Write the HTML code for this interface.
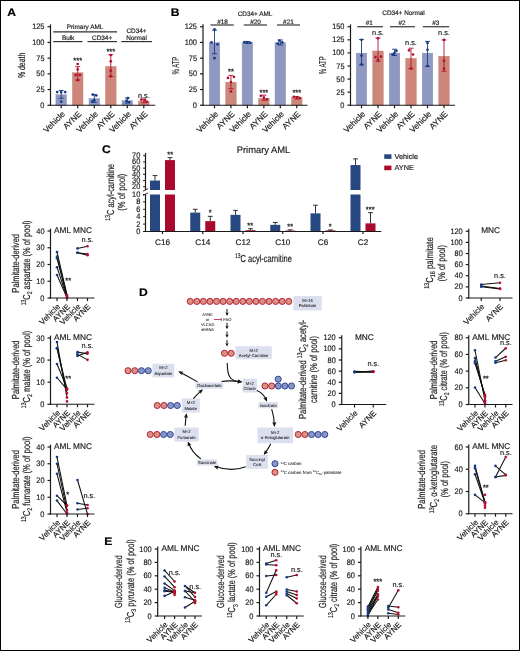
<!DOCTYPE html>
<html><head><meta charset="utf-8"><title>Figure</title>
<style>
html,body{margin:0;padding:0;background:#fff;}
svg{display:block;font-family:"Liberation Sans", sans-serif;text-rendering:geometricPrecision;will-change:transform;}
</style></head><body>
<svg width="520" height="651" viewBox="0 0 520 651">
<rect x="0" y="0" width="520" height="651" fill="#ffffff" />
<text transform="translate(7.3,11.9) scale(1.1,1)" y="3.96" font-size="11" text-anchor="start" font-weight="bold" fill="#000" stroke="#000" stroke-width="0.17">A</text>
<text transform="translate(170.8,12.5) scale(1.1,1)" y="3.96" font-size="11" text-anchor="start" font-weight="bold" fill="#000" stroke="#000" stroke-width="0.17">B</text>
<text transform="translate(102,148.8) scale(1.1,1)" y="3.96" font-size="11" text-anchor="start" font-weight="bold" fill="#000" stroke="#000" stroke-width="0.17">C</text>
<text transform="translate(139,292) scale(1.1,1)" y="3.96" font-size="11" text-anchor="start" font-weight="bold" fill="#000" stroke="#000" stroke-width="0.17">D</text>
<text transform="translate(104.2,540.6) scale(1.1,1)" y="3.96" font-size="11" text-anchor="start" font-weight="bold" fill="#000" stroke="#000" stroke-width="0.17">E</text>
<rect x="55.9" y="94.77" width="10.6" height="10.48" fill="#8f98c1" stroke="#858fbb" stroke-width="0.4"/>
<rect x="72.4" y="72.79" width="10.6" height="32.46" fill="#cd867a" stroke="#c47b70" stroke-width="0.4"/>
<rect x="89" y="98.54" width="10.6" height="6.71" fill="#8f98c1" stroke="#858fbb" stroke-width="0.4"/>
<rect x="105.5" y="66.51" width="10.6" height="38.74" fill="#cd867a" stroke="#c47b70" stroke-width="0.4"/>
<rect x="122" y="100.74" width="10.6" height="4.51" fill="#8f98c1" stroke="#858fbb" stroke-width="0.4"/>
<rect x="138.5" y="101.05" width="10.6" height="4.2" fill="#cd867a" stroke="#c47b70" stroke-width="0.4"/>
<line x1="61.2" y1="98.34" x2="61.2" y2="90.43" stroke="#173b82" stroke-width="0.9" stroke-linecap="butt"/>
<line x1="58.7" y1="90.43" x2="63.7" y2="90.43" stroke="#173b82" stroke-width="0.9" stroke-linecap="butt"/>
<line x1="58.7" y1="98.34" x2="63.7" y2="98.34" stroke="#173b82" stroke-width="0.9" stroke-linecap="butt"/>
<line x1="77.7" y1="80.13" x2="77.7" y2="66.63" stroke="#b30f2f" stroke-width="0.9" stroke-linecap="butt"/>
<line x1="75.2" y1="66.63" x2="80.2" y2="66.63" stroke="#b30f2f" stroke-width="0.9" stroke-linecap="butt"/>
<line x1="75.2" y1="80.13" x2="80.2" y2="80.13" stroke="#b30f2f" stroke-width="0.9" stroke-linecap="butt"/>
<line x1="94.3" y1="102.42" x2="94.3" y2="94.57" stroke="#173b82" stroke-width="0.9" stroke-linecap="butt"/>
<line x1="91.8" y1="94.57" x2="96.8" y2="94.57" stroke="#173b82" stroke-width="0.9" stroke-linecap="butt"/>
<line x1="91.8" y1="102.42" x2="96.8" y2="102.42" stroke="#173b82" stroke-width="0.9" stroke-linecap="butt"/>
<line x1="110.8" y1="76.36" x2="110.8" y2="54.7" stroke="#b30f2f" stroke-width="0.9" stroke-linecap="butt"/>
<line x1="108.3" y1="54.7" x2="113.3" y2="54.7" stroke="#b30f2f" stroke-width="0.9" stroke-linecap="butt"/>
<line x1="108.3" y1="76.36" x2="113.3" y2="76.36" stroke="#b30f2f" stroke-width="0.9" stroke-linecap="butt"/>
<line x1="127.3" y1="103.05" x2="127.3" y2="98.03" stroke="#173b82" stroke-width="0.9" stroke-linecap="butt"/>
<line x1="124.8" y1="98.03" x2="129.8" y2="98.03" stroke="#173b82" stroke-width="0.9" stroke-linecap="butt"/>
<line x1="124.8" y1="103.05" x2="129.8" y2="103.05" stroke="#173b82" stroke-width="0.9" stroke-linecap="butt"/>
<line x1="143.8" y1="102.74" x2="143.8" y2="98.97" stroke="#b30f2f" stroke-width="0.9" stroke-linecap="butt"/>
<line x1="141.3" y1="98.97" x2="146.3" y2="98.97" stroke="#b30f2f" stroke-width="0.9" stroke-linecap="butt"/>
<line x1="141.3" y1="102.74" x2="146.3" y2="102.74" stroke="#b30f2f" stroke-width="0.9" stroke-linecap="butt"/>
<circle cx="57.2" cy="92.06" r="1.35" fill="#173b82"/>
<circle cx="61.2" cy="92.06" r="1.35" fill="#173b82"/>
<circle cx="65.2" cy="92.06" r="1.35" fill="#173b82"/>
<circle cx="61.2" cy="101.61" r="1.35" fill="#173b82"/>
<circle cx="77.7" cy="63.99" r="1.35" fill="#b30f2f"/>
<circle cx="77.7" cy="69.45" r="1.35" fill="#b30f2f"/>
<circle cx="75.7" cy="74.92" r="1.35" fill="#b30f2f"/>
<circle cx="79.9" cy="74.92" r="1.35" fill="#b30f2f"/>
<circle cx="77.7" cy="80.13" r="1.35" fill="#b30f2f"/>
<circle cx="92.8" cy="94.57" r="1.35" fill="#173b82"/>
<circle cx="96.3" cy="95.52" r="1.35" fill="#173b82"/>
<circle cx="94.3" cy="100.23" r="1.35" fill="#173b82"/>
<circle cx="92.3" cy="101.48" r="1.35" fill="#173b82"/>
<circle cx="110.8" cy="55.01" r="1.35" fill="#b30f2f"/>
<circle cx="110.8" cy="61.29" r="1.35" fill="#b30f2f"/>
<circle cx="110.8" cy="70.71" r="1.35" fill="#b30f2f"/>
<circle cx="110.8" cy="76.36" r="1.35" fill="#b30f2f"/>
<circle cx="127.8" cy="98.03" r="1.35" fill="#173b82"/>
<circle cx="126.3" cy="100.85" r="1.35" fill="#173b82"/>
<circle cx="129.3" cy="102.11" r="1.35" fill="#173b82"/>
<circle cx="141.3" cy="99.6" r="1.35" fill="#b30f2f"/>
<circle cx="144.8" cy="100.23" r="1.35" fill="#b30f2f"/>
<circle cx="146.8" cy="101.8" r="1.35" fill="#b30f2f"/>
<line x1="50.5" y1="24.35" x2="50.5" y2="105.85" stroke="#1a1a1a" stroke-width="1.2" stroke-linecap="butt"/>
<line x1="47.5" y1="105.25" x2="50.5" y2="105.25" stroke="#1a1a1a" stroke-width="1.2" stroke-linecap="butt"/>
<text transform="translate(44.5,104.85) scale(0.92,1)" y="2.9" font-size="8.05" text-anchor="end" font-weight="normal" fill="#1a1a1a" stroke="#1a1a1a" stroke-width="0.17">0</text>
<line x1="47.5" y1="89.55" x2="50.5" y2="89.55" stroke="#1a1a1a" stroke-width="1.2" stroke-linecap="butt"/>
<text transform="translate(44.5,89.15) scale(0.92,1)" y="2.9" font-size="8.05" text-anchor="end" font-weight="normal" fill="#1a1a1a" stroke="#1a1a1a" stroke-width="0.17">25</text>
<line x1="47.5" y1="73.85" x2="50.5" y2="73.85" stroke="#1a1a1a" stroke-width="1.2" stroke-linecap="butt"/>
<text transform="translate(44.5,73.45) scale(0.92,1)" y="2.9" font-size="8.05" text-anchor="end" font-weight="normal" fill="#1a1a1a" stroke="#1a1a1a" stroke-width="0.17">50</text>
<line x1="47.5" y1="58.15" x2="50.5" y2="58.15" stroke="#1a1a1a" stroke-width="1.2" stroke-linecap="butt"/>
<text transform="translate(44.5,57.75) scale(0.92,1)" y="2.9" font-size="8.05" text-anchor="end" font-weight="normal" fill="#1a1a1a" stroke="#1a1a1a" stroke-width="0.17">75</text>
<line x1="47.5" y1="42.45" x2="50.5" y2="42.45" stroke="#1a1a1a" stroke-width="1.2" stroke-linecap="butt"/>
<text transform="translate(44.5,42.05) scale(0.92,1)" y="2.9" font-size="8.05" text-anchor="end" font-weight="normal" fill="#1a1a1a" stroke="#1a1a1a" stroke-width="0.17">100</text>
<line x1="47.5" y1="26.75" x2="50.5" y2="26.75" stroke="#1a1a1a" stroke-width="1.2" stroke-linecap="butt"/>
<text transform="translate(44.5,26.35) scale(0.92,1)" y="2.9" font-size="8.05" text-anchor="end" font-weight="normal" fill="#1a1a1a" stroke="#1a1a1a" stroke-width="0.17">125</text>
<line x1="49.9" y1="105.25" x2="155.2" y2="105.25" stroke="#1a1a1a" stroke-width="1.2" stroke-linecap="butt"/>
<line x1="61.2" y1="105.25" x2="61.2" y2="108.25" stroke="#1a1a1a" stroke-width="1.2" stroke-linecap="butt"/>
<line x1="77.7" y1="105.25" x2="77.7" y2="108.25" stroke="#1a1a1a" stroke-width="1.2" stroke-linecap="butt"/>
<line x1="94.3" y1="105.25" x2="94.3" y2="108.25" stroke="#1a1a1a" stroke-width="1.2" stroke-linecap="butt"/>
<line x1="110.8" y1="105.25" x2="110.8" y2="108.25" stroke="#1a1a1a" stroke-width="1.2" stroke-linecap="butt"/>
<line x1="127.3" y1="105.25" x2="127.3" y2="108.25" stroke="#1a1a1a" stroke-width="1.2" stroke-linecap="butt"/>
<line x1="143.8" y1="105.25" x2="143.8" y2="108.25" stroke="#1a1a1a" stroke-width="1.2" stroke-linecap="butt"/>
<text transform="translate(63.3,112.45) rotate(-45)" y="2.95" font-size="8.2" text-anchor="end" font-weight="normal" fill="#1a1a1a" stroke="#1a1a1a" stroke-width="0.17">Vehicle</text>
<text transform="translate(79.8,112.45) rotate(-45)" y="2.95" font-size="8.2" text-anchor="end" font-weight="normal" fill="#1a1a1a" stroke="#1a1a1a" stroke-width="0.17">AYNE</text>
<text transform="translate(96.4,112.45) rotate(-45)" y="2.95" font-size="8.2" text-anchor="end" font-weight="normal" fill="#1a1a1a" stroke="#1a1a1a" stroke-width="0.17">Vehicle</text>
<text transform="translate(112.9,112.45) rotate(-45)" y="2.95" font-size="8.2" text-anchor="end" font-weight="normal" fill="#1a1a1a" stroke="#1a1a1a" stroke-width="0.17">AYNE</text>
<text transform="translate(129.4,112.45) rotate(-45)" y="2.95" font-size="8.2" text-anchor="end" font-weight="normal" fill="#1a1a1a" stroke="#1a1a1a" stroke-width="0.17">Vehicle</text>
<text transform="translate(145.9,112.45) rotate(-45)" y="2.95" font-size="8.2" text-anchor="end" font-weight="normal" fill="#1a1a1a" stroke="#1a1a1a" stroke-width="0.17">AYNE</text>
<text transform="translate(21.7,65.4) rotate(-90) scale(0.69,1)" y="3.6" font-size="10" text-anchor="middle" font-weight="normal" fill="#1a1a1a" stroke="#1a1a1a" stroke-width="0.17"><tspan>% death</tspan></text>
<text x="77.7" y="62.55" font-size="7.5" text-anchor="middle" fill="#1a1a1a" stroke="#1a1a1a" stroke-width="0.25">***</text>
<text x="110.8" y="53.65" font-size="7.5" text-anchor="middle" fill="#1a1a1a" stroke="#1a1a1a" stroke-width="0.25">***</text>
<text x="143.8" y="97.98" font-size="7.35" text-anchor="middle" fill="#1a1a1a" stroke="#1a1a1a" stroke-width="0.15">n.s.</text>
<text transform="translate(85,26.8)" y="2.3" font-size="6.4" text-anchor="middle" font-weight="normal" fill="#1a1a1a" stroke="#1a1a1a" stroke-width="0.17">Primary AML</text>
<line x1="53.25" y1="31.9" x2="117" y2="31.9" stroke="#2e2e2e" stroke-width="1.15" stroke-linecap="butt"/>
<text transform="translate(68.1,37.7)" y="2.3" font-size="6.4" text-anchor="middle" font-weight="normal" fill="#1a1a1a" stroke="#1a1a1a" stroke-width="0.17">Bulk</text>
<line x1="53.25" y1="41.6" x2="82.5" y2="41.6" stroke="#2e2e2e" stroke-width="1.15" stroke-linecap="butt"/>
<text transform="translate(102.1,37.7)" y="2.3" font-size="6.4" text-anchor="middle" font-weight="normal" fill="#1a1a1a" stroke="#1a1a1a" stroke-width="0.17">CD34+</text>
<line x1="87.5" y1="41.6" x2="117" y2="41.6" stroke="#2e2e2e" stroke-width="1.15" stroke-linecap="butt"/>
<text transform="translate(136.5,30.8)" y="2.3" font-size="6.4" text-anchor="middle" font-weight="normal" fill="#1a1a1a" stroke="#1a1a1a" stroke-width="0.17">CD34+</text>
<text transform="translate(136.5,37.7)" y="2.3" font-size="6.4" text-anchor="middle" font-weight="normal" fill="#1a1a1a" stroke="#1a1a1a" stroke-width="0.17">Normal</text>
<line x1="121.2" y1="41.6" x2="152" y2="41.6" stroke="#2e2e2e" stroke-width="1.15" stroke-linecap="butt"/>
<rect x="209.2" y="42.65" width="10.6" height="62.6" fill="#8f98c1" stroke="#858fbb" stroke-width="0.4"/>
<rect x="225.65" y="82.21" width="10.6" height="23.04" fill="#cd867a" stroke="#c47b70" stroke-width="0.4"/>
<rect x="242.1" y="42.65" width="10.6" height="62.6" fill="#8f98c1" stroke="#858fbb" stroke-width="0.4"/>
<rect x="258.55" y="98.42" width="10.6" height="6.83" fill="#cd867a" stroke="#c47b70" stroke-width="0.4"/>
<rect x="275" y="42.65" width="10.6" height="62.6" fill="#8f98c1" stroke="#858fbb" stroke-width="0.4"/>
<rect x="291.45" y="97.54" width="10.6" height="7.71" fill="#cd867a" stroke="#c47b70" stroke-width="0.4"/>
<line x1="214.5" y1="53.75" x2="214.5" y2="30.2" stroke="#173b82" stroke-width="0.9" stroke-linecap="butt"/>
<line x1="212" y1="30.2" x2="217" y2="30.2" stroke="#173b82" stroke-width="0.9" stroke-linecap="butt"/>
<line x1="212" y1="53.75" x2="217" y2="53.75" stroke="#173b82" stroke-width="0.9" stroke-linecap="butt"/>
<line x1="230.95" y1="88.67" x2="230.95" y2="75.42" stroke="#b30f2f" stroke-width="0.9" stroke-linecap="butt"/>
<line x1="228.45" y1="75.42" x2="233.45" y2="75.42" stroke="#b30f2f" stroke-width="0.9" stroke-linecap="butt"/>
<line x1="228.45" y1="88.67" x2="233.45" y2="88.67" stroke="#b30f2f" stroke-width="0.9" stroke-linecap="butt"/>
<line x1="247.4" y1="43.39" x2="247.4" y2="41.51" stroke="#173b82" stroke-width="0.9" stroke-linecap="butt"/>
<line x1="244.9" y1="41.51" x2="249.9" y2="41.51" stroke="#173b82" stroke-width="0.9" stroke-linecap="butt"/>
<line x1="244.9" y1="43.39" x2="249.9" y2="43.39" stroke="#173b82" stroke-width="0.9" stroke-linecap="butt"/>
<line x1="263.85" y1="100.23" x2="263.85" y2="95.2" stroke="#b30f2f" stroke-width="0.9" stroke-linecap="butt"/>
<line x1="261.35" y1="95.2" x2="266.35" y2="95.2" stroke="#b30f2f" stroke-width="0.9" stroke-linecap="butt"/>
<line x1="261.35" y1="100.23" x2="266.35" y2="100.23" stroke="#b30f2f" stroke-width="0.9" stroke-linecap="butt"/>
<line x1="280.3" y1="44.96" x2="280.3" y2="39.94" stroke="#173b82" stroke-width="0.9" stroke-linecap="butt"/>
<line x1="277.8" y1="39.94" x2="282.8" y2="39.94" stroke="#173b82" stroke-width="0.9" stroke-linecap="butt"/>
<line x1="277.8" y1="44.96" x2="282.8" y2="44.96" stroke="#173b82" stroke-width="0.9" stroke-linecap="butt"/>
<line x1="296.75" y1="98.97" x2="296.75" y2="96.46" stroke="#b30f2f" stroke-width="0.9" stroke-linecap="butt"/>
<line x1="294.25" y1="96.46" x2="299.25" y2="96.46" stroke="#b30f2f" stroke-width="0.9" stroke-linecap="butt"/>
<line x1="294.25" y1="98.97" x2="299.25" y2="98.97" stroke="#b30f2f" stroke-width="0.9" stroke-linecap="butt"/>
<circle cx="214.5" cy="29.26" r="1.35" fill="#173b82"/>
<circle cx="211.5" cy="42.45" r="1.35" fill="#173b82"/>
<circle cx="217.5" cy="44.33" r="1.35" fill="#173b82"/>
<circle cx="214.5" cy="58.15" r="1.35" fill="#173b82"/>
<circle cx="227.95" cy="77.93" r="1.35" fill="#b30f2f"/>
<circle cx="233.95" cy="76.99" r="1.35" fill="#b30f2f"/>
<circle cx="230.95" cy="82.01" r="1.35" fill="#b30f2f"/>
<circle cx="230.95" cy="91.43" r="1.35" fill="#b30f2f"/>
<circle cx="244.4" cy="42.14" r="1.35" fill="#173b82"/>
<circle cx="247.4" cy="42.45" r="1.35" fill="#173b82"/>
<circle cx="250.4" cy="42.76" r="1.35" fill="#173b82"/>
<circle cx="260.85" cy="95.83" r="1.35" fill="#b30f2f"/>
<circle cx="263.85" cy="97.71" r="1.35" fill="#b30f2f"/>
<circle cx="266.85" cy="99.28" r="1.35" fill="#b30f2f"/>
<circle cx="279.3" cy="40.57" r="1.35" fill="#173b82"/>
<circle cx="282.3" cy="42.45" r="1.35" fill="#173b82"/>
<circle cx="277.8" cy="43.71" r="1.35" fill="#173b82"/>
<circle cx="293.75" cy="96.77" r="1.35" fill="#b30f2f"/>
<circle cx="296.75" cy="97.53" r="1.35" fill="#b30f2f"/>
<circle cx="299.75" cy="98.03" r="1.35" fill="#b30f2f"/>
<line x1="203" y1="24.35" x2="203" y2="105.85" stroke="#1a1a1a" stroke-width="1.2" stroke-linecap="butt"/>
<line x1="200" y1="105.25" x2="203" y2="105.25" stroke="#1a1a1a" stroke-width="1.2" stroke-linecap="butt"/>
<text transform="translate(197,104.85) scale(0.92,1)" y="2.9" font-size="8.05" text-anchor="end" font-weight="normal" fill="#1a1a1a" stroke="#1a1a1a" stroke-width="0.17">0</text>
<line x1="200" y1="89.55" x2="203" y2="89.55" stroke="#1a1a1a" stroke-width="1.2" stroke-linecap="butt"/>
<text transform="translate(197,89.15) scale(0.92,1)" y="2.9" font-size="8.05" text-anchor="end" font-weight="normal" fill="#1a1a1a" stroke="#1a1a1a" stroke-width="0.17">25</text>
<line x1="200" y1="73.85" x2="203" y2="73.85" stroke="#1a1a1a" stroke-width="1.2" stroke-linecap="butt"/>
<text transform="translate(197,73.45) scale(0.92,1)" y="2.9" font-size="8.05" text-anchor="end" font-weight="normal" fill="#1a1a1a" stroke="#1a1a1a" stroke-width="0.17">50</text>
<line x1="200" y1="58.15" x2="203" y2="58.15" stroke="#1a1a1a" stroke-width="1.2" stroke-linecap="butt"/>
<text transform="translate(197,57.75) scale(0.92,1)" y="2.9" font-size="8.05" text-anchor="end" font-weight="normal" fill="#1a1a1a" stroke="#1a1a1a" stroke-width="0.17">75</text>
<line x1="200" y1="42.45" x2="203" y2="42.45" stroke="#1a1a1a" stroke-width="1.2" stroke-linecap="butt"/>
<text transform="translate(197,42.05) scale(0.92,1)" y="2.9" font-size="8.05" text-anchor="end" font-weight="normal" fill="#1a1a1a" stroke="#1a1a1a" stroke-width="0.17">100</text>
<line x1="200" y1="26.75" x2="203" y2="26.75" stroke="#1a1a1a" stroke-width="1.2" stroke-linecap="butt"/>
<text transform="translate(197,26.35) scale(0.92,1)" y="2.9" font-size="8.05" text-anchor="end" font-weight="normal" fill="#1a1a1a" stroke="#1a1a1a" stroke-width="0.17">125</text>
<line x1="202.4" y1="105.25" x2="307.5" y2="105.25" stroke="#1a1a1a" stroke-width="1.2" stroke-linecap="butt"/>
<line x1="214.5" y1="105.25" x2="214.5" y2="108.25" stroke="#1a1a1a" stroke-width="1.2" stroke-linecap="butt"/>
<line x1="230.95" y1="105.25" x2="230.95" y2="108.25" stroke="#1a1a1a" stroke-width="1.2" stroke-linecap="butt"/>
<line x1="247.4" y1="105.25" x2="247.4" y2="108.25" stroke="#1a1a1a" stroke-width="1.2" stroke-linecap="butt"/>
<line x1="263.85" y1="105.25" x2="263.85" y2="108.25" stroke="#1a1a1a" stroke-width="1.2" stroke-linecap="butt"/>
<line x1="280.3" y1="105.25" x2="280.3" y2="108.25" stroke="#1a1a1a" stroke-width="1.2" stroke-linecap="butt"/>
<line x1="296.75" y1="105.25" x2="296.75" y2="108.25" stroke="#1a1a1a" stroke-width="1.2" stroke-linecap="butt"/>
<text transform="translate(216.6,112.45) rotate(-45)" y="2.95" font-size="8.2" text-anchor="end" font-weight="normal" fill="#1a1a1a" stroke="#1a1a1a" stroke-width="0.17">Vehicle</text>
<text transform="translate(233.05,112.45) rotate(-45)" y="2.95" font-size="8.2" text-anchor="end" font-weight="normal" fill="#1a1a1a" stroke="#1a1a1a" stroke-width="0.17">AYNE</text>
<text transform="translate(249.5,112.45) rotate(-45)" y="2.95" font-size="8.2" text-anchor="end" font-weight="normal" fill="#1a1a1a" stroke="#1a1a1a" stroke-width="0.17">Vehicle</text>
<text transform="translate(265.95,112.45) rotate(-45)" y="2.95" font-size="8.2" text-anchor="end" font-weight="normal" fill="#1a1a1a" stroke="#1a1a1a" stroke-width="0.17">AYNE</text>
<text transform="translate(282.4,112.45) rotate(-45)" y="2.95" font-size="8.2" text-anchor="end" font-weight="normal" fill="#1a1a1a" stroke="#1a1a1a" stroke-width="0.17">Vehicle</text>
<text transform="translate(298.85,112.45) rotate(-45)" y="2.95" font-size="8.2" text-anchor="end" font-weight="normal" fill="#1a1a1a" stroke="#1a1a1a" stroke-width="0.17">AYNE</text>
<text transform="translate(175.4,65.6) rotate(-90) scale(0.6,1)" y="3.6" font-size="10" text-anchor="middle" font-weight="normal" fill="#1a1a1a" stroke="#1a1a1a" stroke-width="0.17"><tspan>% ATP</tspan></text>
<text x="231" y="74.15" font-size="7.5" text-anchor="middle" fill="#1a1a1a" stroke="#1a1a1a" stroke-width="0.25">**</text>
<text x="263.9" y="94.75" font-size="7.5" text-anchor="middle" fill="#1a1a1a" stroke="#1a1a1a" stroke-width="0.25">***</text>
<text x="296.8" y="94.85" font-size="7.5" text-anchor="middle" fill="#1a1a1a" stroke="#1a1a1a" stroke-width="0.25">***</text>
<text transform="translate(255,13.9)" y="2.3" font-size="6.4" text-anchor="middle" font-weight="normal" fill="#1a1a1a" stroke="#1a1a1a" stroke-width="0.17">CD34+ AML</text>
<text transform="translate(222.5,21.3)" y="2.3" font-size="6.4" text-anchor="middle" font-weight="normal" fill="#1a1a1a" stroke="#1a1a1a" stroke-width="0.17">#18</text>
<line x1="210.5" y1="25" x2="233.75" y2="25" stroke="#2e2e2e" stroke-width="1.15" stroke-linecap="butt"/>
<text transform="translate(255.5,21.3)" y="2.3" font-size="6.4" text-anchor="middle" font-weight="normal" fill="#1a1a1a" stroke="#1a1a1a" stroke-width="0.17">#20</text>
<line x1="243.75" y1="25" x2="267" y2="25" stroke="#2e2e2e" stroke-width="1.15" stroke-linecap="butt"/>
<text transform="translate(288.4,21.3)" y="2.3" font-size="6.4" text-anchor="middle" font-weight="normal" fill="#1a1a1a" stroke="#1a1a1a" stroke-width="0.17">#21</text>
<line x1="277" y1="25" x2="300" y2="25" stroke="#2e2e2e" stroke-width="1.15" stroke-linecap="butt"/>
<rect x="356.2" y="53.12" width="10.6" height="52.13" fill="#8f98c1" stroke="#858fbb" stroke-width="0.4"/>
<rect x="372.7" y="51.02" width="10.6" height="54.23" fill="#cd867a" stroke="#c47b70" stroke-width="0.4"/>
<rect x="389.2" y="53.12" width="10.6" height="52.13" fill="#8f98c1" stroke="#858fbb" stroke-width="0.4"/>
<rect x="405.7" y="58.35" width="10.6" height="46.9" fill="#cd867a" stroke="#c47b70" stroke-width="0.4"/>
<rect x="422.2" y="53.12" width="10.6" height="52.13" fill="#8f98c1" stroke="#858fbb" stroke-width="0.4"/>
<rect x="438.7" y="56.26" width="10.6" height="48.99" fill="#cd867a" stroke="#c47b70" stroke-width="0.4"/>
<line x1="361.5" y1="64.95" x2="361.5" y2="39.57" stroke="#173b82" stroke-width="0.9" stroke-linecap="butt"/>
<line x1="359" y1="39.57" x2="364" y2="39.57" stroke="#173b82" stroke-width="0.9" stroke-linecap="butt"/>
<line x1="359" y1="64.95" x2="364" y2="64.95" stroke="#173b82" stroke-width="0.9" stroke-linecap="butt"/>
<line x1="378" y1="61.29" x2="378" y2="38" stroke="#b30f2f" stroke-width="0.9" stroke-linecap="butt"/>
<line x1="375.5" y1="38" x2="380.5" y2="38" stroke="#b30f2f" stroke-width="0.9" stroke-linecap="butt"/>
<line x1="375.5" y1="61.29" x2="380.5" y2="61.29" stroke="#b30f2f" stroke-width="0.9" stroke-linecap="butt"/>
<line x1="394.5" y1="55.53" x2="394.5" y2="49.25" stroke="#173b82" stroke-width="0.9" stroke-linecap="butt"/>
<line x1="392" y1="49.25" x2="397" y2="49.25" stroke="#173b82" stroke-width="0.9" stroke-linecap="butt"/>
<line x1="392" y1="55.53" x2="397" y2="55.53" stroke="#173b82" stroke-width="0.9" stroke-linecap="butt"/>
<line x1="411" y1="68.62" x2="411" y2="48.21" stroke="#b30f2f" stroke-width="0.9" stroke-linecap="butt"/>
<line x1="408.5" y1="48.21" x2="413.5" y2="48.21" stroke="#b30f2f" stroke-width="0.9" stroke-linecap="butt"/>
<line x1="408.5" y1="68.62" x2="413.5" y2="68.62" stroke="#b30f2f" stroke-width="0.9" stroke-linecap="butt"/>
<line x1="427.5" y1="66.26" x2="427.5" y2="41.4" stroke="#173b82" stroke-width="0.9" stroke-linecap="butt"/>
<line x1="425" y1="41.4" x2="430" y2="41.4" stroke="#173b82" stroke-width="0.9" stroke-linecap="butt"/>
<line x1="425" y1="66.26" x2="430" y2="66.26" stroke="#173b82" stroke-width="0.9" stroke-linecap="butt"/>
<line x1="444" y1="71.23" x2="444" y2="39.99" stroke="#b30f2f" stroke-width="0.9" stroke-linecap="butt"/>
<line x1="441.5" y1="39.99" x2="446.5" y2="39.99" stroke="#b30f2f" stroke-width="0.9" stroke-linecap="butt"/>
<line x1="441.5" y1="71.23" x2="446.5" y2="71.23" stroke="#b30f2f" stroke-width="0.9" stroke-linecap="butt"/>
<circle cx="361.5" cy="39.83" r="1.35" fill="#173b82"/>
<circle cx="361.5" cy="55.53" r="1.35" fill="#173b82"/>
<circle cx="361.5" cy="64.43" r="1.35" fill="#173b82"/>
<circle cx="378" cy="38.26" r="1.35" fill="#b30f2f"/>
<circle cx="375.5" cy="57.1" r="1.35" fill="#b30f2f"/>
<circle cx="381" cy="56.58" r="1.35" fill="#b30f2f"/>
<circle cx="378" cy="59.72" r="1.35" fill="#b30f2f"/>
<circle cx="396.5" cy="50.82" r="1.35" fill="#173b82"/>
<circle cx="394.5" cy="52.92" r="1.35" fill="#173b82"/>
<circle cx="392.5" cy="54.49" r="1.35" fill="#173b82"/>
<circle cx="409" cy="50.3" r="1.35" fill="#b30f2f"/>
<circle cx="413" cy="54.49" r="1.35" fill="#b30f2f"/>
<circle cx="411" cy="68.62" r="1.35" fill="#b30f2f"/>
<circle cx="427.5" cy="42.97" r="1.35" fill="#173b82"/>
<circle cx="427.5" cy="49.78" r="1.35" fill="#173b82"/>
<circle cx="427.5" cy="66" r="1.35" fill="#173b82"/>
<circle cx="444" cy="39.83" r="1.35" fill="#b30f2f"/>
<circle cx="444" cy="60.77" r="1.35" fill="#b30f2f"/>
<circle cx="444" cy="68.62" r="1.35" fill="#b30f2f"/>
<line x1="350.5" y1="24.35" x2="350.5" y2="105.85" stroke="#1a1a1a" stroke-width="1.2" stroke-linecap="butt"/>
<line x1="347.5" y1="105.25" x2="350.5" y2="105.25" stroke="#1a1a1a" stroke-width="1.2" stroke-linecap="butt"/>
<text transform="translate(344.5,104.85) scale(0.92,1)" y="2.9" font-size="8.05" text-anchor="end" font-weight="normal" fill="#1a1a1a" stroke="#1a1a1a" stroke-width="0.17">0</text>
<line x1="347.5" y1="92.17" x2="350.5" y2="92.17" stroke="#1a1a1a" stroke-width="1.2" stroke-linecap="butt"/>
<text transform="translate(344.5,91.77) scale(0.92,1)" y="2.9" font-size="8.05" text-anchor="end" font-weight="normal" fill="#1a1a1a" stroke="#1a1a1a" stroke-width="0.17">25</text>
<line x1="347.5" y1="79.08" x2="350.5" y2="79.08" stroke="#1a1a1a" stroke-width="1.2" stroke-linecap="butt"/>
<text transform="translate(344.5,78.68) scale(0.92,1)" y="2.9" font-size="8.05" text-anchor="end" font-weight="normal" fill="#1a1a1a" stroke="#1a1a1a" stroke-width="0.17">50</text>
<line x1="347.5" y1="66" x2="350.5" y2="66" stroke="#1a1a1a" stroke-width="1.2" stroke-linecap="butt"/>
<text transform="translate(344.5,65.6) scale(0.92,1)" y="2.9" font-size="8.05" text-anchor="end" font-weight="normal" fill="#1a1a1a" stroke="#1a1a1a" stroke-width="0.17">75</text>
<line x1="347.5" y1="52.92" x2="350.5" y2="52.92" stroke="#1a1a1a" stroke-width="1.2" stroke-linecap="butt"/>
<text transform="translate(344.5,52.52) scale(0.92,1)" y="2.9" font-size="8.05" text-anchor="end" font-weight="normal" fill="#1a1a1a" stroke="#1a1a1a" stroke-width="0.17">100</text>
<line x1="347.5" y1="39.83" x2="350.5" y2="39.83" stroke="#1a1a1a" stroke-width="1.2" stroke-linecap="butt"/>
<text transform="translate(344.5,39.43) scale(0.92,1)" y="2.9" font-size="8.05" text-anchor="end" font-weight="normal" fill="#1a1a1a" stroke="#1a1a1a" stroke-width="0.17">125</text>
<line x1="347.5" y1="26.75" x2="350.5" y2="26.75" stroke="#1a1a1a" stroke-width="1.2" stroke-linecap="butt"/>
<text transform="translate(344.5,26.35) scale(0.92,1)" y="2.9" font-size="8.05" text-anchor="end" font-weight="normal" fill="#1a1a1a" stroke="#1a1a1a" stroke-width="0.17">150</text>
<line x1="349.9" y1="105.25" x2="455" y2="105.25" stroke="#1a1a1a" stroke-width="1.2" stroke-linecap="butt"/>
<line x1="361.5" y1="105.25" x2="361.5" y2="108.25" stroke="#1a1a1a" stroke-width="1.2" stroke-linecap="butt"/>
<line x1="378" y1="105.25" x2="378" y2="108.25" stroke="#1a1a1a" stroke-width="1.2" stroke-linecap="butt"/>
<line x1="394.5" y1="105.25" x2="394.5" y2="108.25" stroke="#1a1a1a" stroke-width="1.2" stroke-linecap="butt"/>
<line x1="411" y1="105.25" x2="411" y2="108.25" stroke="#1a1a1a" stroke-width="1.2" stroke-linecap="butt"/>
<line x1="427.5" y1="105.25" x2="427.5" y2="108.25" stroke="#1a1a1a" stroke-width="1.2" stroke-linecap="butt"/>
<line x1="444" y1="105.25" x2="444" y2="108.25" stroke="#1a1a1a" stroke-width="1.2" stroke-linecap="butt"/>
<text transform="translate(363.6,112.45) rotate(-45)" y="2.95" font-size="8.2" text-anchor="end" font-weight="normal" fill="#1a1a1a" stroke="#1a1a1a" stroke-width="0.17">Vehicle</text>
<text transform="translate(380.1,112.45) rotate(-45)" y="2.95" font-size="8.2" text-anchor="end" font-weight="normal" fill="#1a1a1a" stroke="#1a1a1a" stroke-width="0.17">AYNE</text>
<text transform="translate(396.6,112.45) rotate(-45)" y="2.95" font-size="8.2" text-anchor="end" font-weight="normal" fill="#1a1a1a" stroke="#1a1a1a" stroke-width="0.17">Vehicle</text>
<text transform="translate(413.1,112.45) rotate(-45)" y="2.95" font-size="8.2" text-anchor="end" font-weight="normal" fill="#1a1a1a" stroke="#1a1a1a" stroke-width="0.17">AYNE</text>
<text transform="translate(429.6,112.45) rotate(-45)" y="2.95" font-size="8.2" text-anchor="end" font-weight="normal" fill="#1a1a1a" stroke="#1a1a1a" stroke-width="0.17">Vehicle</text>
<text transform="translate(446.1,112.45) rotate(-45)" y="2.95" font-size="8.2" text-anchor="end" font-weight="normal" fill="#1a1a1a" stroke="#1a1a1a" stroke-width="0.17">AYNE</text>
<text transform="translate(322.4,65.3) rotate(-90) scale(0.6,1)" y="3.6" font-size="10" text-anchor="middle" font-weight="normal" fill="#1a1a1a" stroke="#1a1a1a" stroke-width="0.17"><tspan>% ATP</tspan></text>
<text x="378" y="34.98" font-size="7.35" text-anchor="middle" fill="#1a1a1a" stroke="#1a1a1a" stroke-width="0.15">n.s.</text>
<text x="411" y="45.48" font-size="7.35" text-anchor="middle" fill="#1a1a1a" stroke="#1a1a1a" stroke-width="0.15">n.s.</text>
<text x="444" y="35.48" font-size="7.35" text-anchor="middle" fill="#1a1a1a" stroke="#1a1a1a" stroke-width="0.15">n.s.</text>
<text transform="translate(403.5,13)" y="2.3" font-size="6.4" text-anchor="middle" font-weight="normal" fill="#1a1a1a" stroke="#1a1a1a" stroke-width="0.17">CD34+ Normal</text>
<text transform="translate(369.3,23)" y="2.3" font-size="6.4" text-anchor="middle" font-weight="normal" fill="#1a1a1a" stroke="#1a1a1a" stroke-width="0.17">#1</text>
<line x1="357.25" y1="26.75" x2="383" y2="26.75" stroke="#2e2e2e" stroke-width="1.15" stroke-linecap="butt"/>
<text transform="translate(402,23)" y="2.3" font-size="6.4" text-anchor="middle" font-weight="normal" fill="#1a1a1a" stroke="#1a1a1a" stroke-width="0.17">#2</text>
<line x1="390" y1="26.75" x2="415" y2="26.75" stroke="#2e2e2e" stroke-width="1.15" stroke-linecap="butt"/>
<text transform="translate(435.8,23)" y="2.3" font-size="6.4" text-anchor="middle" font-weight="normal" fill="#1a1a1a" stroke="#1a1a1a" stroke-width="0.17">#3</text>
<line x1="422.75" y1="26.75" x2="449.25" y2="26.75" stroke="#2e2e2e" stroke-width="1.15" stroke-linecap="butt"/>
<rect x="150" y="180.55" width="10" height="50.95" fill="#26477f" />
<line x1="155" y1="180.55" x2="155" y2="175.59" stroke="#1a1a1a" stroke-width="0.9" stroke-linecap="butt"/>
<line x1="152.6" y1="175.59" x2="157.4" y2="175.59" stroke="#1a1a1a" stroke-width="0.9" stroke-linecap="butt"/>
<rect x="165" y="160.09" width="10" height="71.41" fill="#a9092e" />
<line x1="170" y1="160.09" x2="170" y2="157.61" stroke="#1a1a1a" stroke-width="0.9" stroke-linecap="butt"/>
<line x1="167.6" y1="157.61" x2="172.4" y2="157.61" stroke="#1a1a1a" stroke-width="0.9" stroke-linecap="butt"/>
<rect x="190.25" y="212.63" width="10" height="18.87" fill="#26477f" />
<line x1="195.25" y1="212.63" x2="195.25" y2="209.3" stroke="#1a1a1a" stroke-width="0.9" stroke-linecap="butt"/>
<line x1="192.85" y1="209.3" x2="197.65" y2="209.3" stroke="#1a1a1a" stroke-width="0.9" stroke-linecap="butt"/>
<rect x="205.25" y="221.14" width="10" height="10.36" fill="#a9092e" />
<line x1="210.25" y1="221.14" x2="210.25" y2="216.33" stroke="#1a1a1a" stroke-width="0.9" stroke-linecap="butt"/>
<line x1="207.85" y1="216.33" x2="212.65" y2="216.33" stroke="#1a1a1a" stroke-width="0.9" stroke-linecap="butt"/>
<rect x="230.5" y="214.85" width="10" height="16.65" fill="#26477f" />
<line x1="235.5" y1="214.85" x2="235.5" y2="210.41" stroke="#1a1a1a" stroke-width="0.9" stroke-linecap="butt"/>
<line x1="233.1" y1="210.41" x2="237.9" y2="210.41" stroke="#1a1a1a" stroke-width="0.9" stroke-linecap="butt"/>
<rect x="245.5" y="230.21" width="10" height="1.29" fill="#a9092e" />
<line x1="250.5" y1="230.21" x2="250.5" y2="228.72" stroke="#1a1a1a" stroke-width="0.9" stroke-linecap="butt"/>
<line x1="248.1" y1="228.72" x2="252.9" y2="228.72" stroke="#1a1a1a" stroke-width="0.9" stroke-linecap="butt"/>
<rect x="270.25" y="224.84" width="10" height="6.66" fill="#26477f" />
<line x1="275.25" y1="224.84" x2="275.25" y2="222.44" stroke="#1a1a1a" stroke-width="0.9" stroke-linecap="butt"/>
<line x1="272.85" y1="222.44" x2="277.65" y2="222.44" stroke="#1a1a1a" stroke-width="0.9" stroke-linecap="butt"/>
<rect x="285.25" y="230.57" width="10" height="0.93" fill="#a9092e" />
<line x1="290.25" y1="230.57" x2="290.25" y2="229.84" stroke="#1a1a1a" stroke-width="0.9" stroke-linecap="butt"/>
<line x1="287.85" y1="229.84" x2="292.65" y2="229.84" stroke="#1a1a1a" stroke-width="0.9" stroke-linecap="butt"/>
<rect x="310.5" y="213.37" width="10" height="18.13" fill="#26477f" />
<line x1="315.5" y1="213.37" x2="315.5" y2="205.23" stroke="#1a1a1a" stroke-width="0.9" stroke-linecap="butt"/>
<line x1="313.1" y1="205.23" x2="317.9" y2="205.23" stroke="#1a1a1a" stroke-width="0.9" stroke-linecap="butt"/>
<rect x="325.5" y="230.39" width="10" height="1.11" fill="#a9092e" />
<line x1="330.5" y1="230.39" x2="330.5" y2="229.95" stroke="#1a1a1a" stroke-width="0.9" stroke-linecap="butt"/>
<line x1="328.1" y1="229.95" x2="332.9" y2="229.95" stroke="#1a1a1a" stroke-width="0.9" stroke-linecap="butt"/>
<rect x="350.5" y="165.05" width="10" height="66.45" fill="#26477f" />
<line x1="355.5" y1="165.05" x2="355.5" y2="158.85" stroke="#1a1a1a" stroke-width="0.9" stroke-linecap="butt"/>
<line x1="353.1" y1="158.85" x2="357.9" y2="158.85" stroke="#1a1a1a" stroke-width="0.9" stroke-linecap="butt"/>
<rect x="365.5" y="223.36" width="10" height="8.14" fill="#a9092e" />
<line x1="370.5" y1="223.36" x2="370.5" y2="212.63" stroke="#1a1a1a" stroke-width="0.9" stroke-linecap="butt"/>
<line x1="368.1" y1="212.63" x2="372.9" y2="212.63" stroke="#1a1a1a" stroke-width="0.9" stroke-linecap="butt"/>
<rect x="147" y="190" width="236" height="4.5" fill="#ffffff" />
<line x1="145.5" y1="152.95" x2="145.5" y2="190" stroke="#1a1a1a" stroke-width="1.2" stroke-linecap="butt"/>
<line x1="145.5" y1="194.5" x2="145.5" y2="232.1" stroke="#1a1a1a" stroke-width="1.2" stroke-linecap="butt"/>
<line x1="142.9" y1="191.2" x2="148.1" y2="188.6" stroke="#1a1a1a" stroke-width="0.9" stroke-linecap="butt"/>
<line x1="142.9" y1="195.5" x2="148.1" y2="192.9" stroke="#1a1a1a" stroke-width="0.9" stroke-linecap="butt"/>
<line x1="143.1" y1="186.75" x2="145.5" y2="186.75" stroke="#1a1a1a" stroke-width="1" stroke-linecap="butt"/>
<text transform="translate(140.3,186.35) scale(0.92,1)" y="2.9" font-size="8.05" text-anchor="end" font-weight="normal" fill="#1a1a1a" stroke="#1a1a1a" stroke-width="0.17">20</text>
<line x1="143.1" y1="180.55" x2="145.5" y2="180.55" stroke="#1a1a1a" stroke-width="1" stroke-linecap="butt"/>
<text transform="translate(140.3,180.15) scale(0.92,1)" y="2.9" font-size="8.05" text-anchor="end" font-weight="normal" fill="#1a1a1a" stroke="#1a1a1a" stroke-width="0.17">30</text>
<line x1="143.1" y1="174.35" x2="145.5" y2="174.35" stroke="#1a1a1a" stroke-width="1" stroke-linecap="butt"/>
<text transform="translate(140.3,173.95) scale(0.92,1)" y="2.9" font-size="8.05" text-anchor="end" font-weight="normal" fill="#1a1a1a" stroke="#1a1a1a" stroke-width="0.17">40</text>
<line x1="143.1" y1="168.15" x2="145.5" y2="168.15" stroke="#1a1a1a" stroke-width="1" stroke-linecap="butt"/>
<text transform="translate(140.3,167.75) scale(0.92,1)" y="2.9" font-size="8.05" text-anchor="end" font-weight="normal" fill="#1a1a1a" stroke="#1a1a1a" stroke-width="0.17">50</text>
<line x1="143.1" y1="161.95" x2="145.5" y2="161.95" stroke="#1a1a1a" stroke-width="1" stroke-linecap="butt"/>
<text transform="translate(140.3,161.55) scale(0.92,1)" y="2.9" font-size="8.05" text-anchor="end" font-weight="normal" fill="#1a1a1a" stroke="#1a1a1a" stroke-width="0.17">60</text>
<line x1="143.1" y1="155.75" x2="145.5" y2="155.75" stroke="#1a1a1a" stroke-width="1" stroke-linecap="butt"/>
<text transform="translate(140.3,155.35) scale(0.92,1)" y="2.9" font-size="8.05" text-anchor="end" font-weight="normal" fill="#1a1a1a" stroke="#1a1a1a" stroke-width="0.17">70</text>
<line x1="143.1" y1="231.5" x2="145.5" y2="231.5" stroke="#1a1a1a" stroke-width="1" stroke-linecap="butt"/>
<text transform="translate(140.3,231.1) scale(0.92,1)" y="2.9" font-size="8.05" text-anchor="end" font-weight="normal" fill="#1a1a1a" stroke="#1a1a1a" stroke-width="0.17">0</text>
<line x1="143.1" y1="224.1" x2="145.5" y2="224.1" stroke="#1a1a1a" stroke-width="1" stroke-linecap="butt"/>
<text transform="translate(140.3,223.7) scale(0.92,1)" y="2.9" font-size="8.05" text-anchor="end" font-weight="normal" fill="#1a1a1a" stroke="#1a1a1a" stroke-width="0.17">2</text>
<line x1="143.1" y1="216.7" x2="145.5" y2="216.7" stroke="#1a1a1a" stroke-width="1" stroke-linecap="butt"/>
<text transform="translate(140.3,216.3) scale(0.92,1)" y="2.9" font-size="8.05" text-anchor="end" font-weight="normal" fill="#1a1a1a" stroke="#1a1a1a" stroke-width="0.17">4</text>
<line x1="143.1" y1="209.3" x2="145.5" y2="209.3" stroke="#1a1a1a" stroke-width="1" stroke-linecap="butt"/>
<text transform="translate(140.3,208.9) scale(0.92,1)" y="2.9" font-size="8.05" text-anchor="end" font-weight="normal" fill="#1a1a1a" stroke="#1a1a1a" stroke-width="0.17">6</text>
<line x1="143.1" y1="201.9" x2="145.5" y2="201.9" stroke="#1a1a1a" stroke-width="1" stroke-linecap="butt"/>
<text transform="translate(140.3,201.5) scale(0.92,1)" y="2.9" font-size="8.05" text-anchor="end" font-weight="normal" fill="#1a1a1a" stroke="#1a1a1a" stroke-width="0.17">8</text>
<line x1="143.1" y1="194.5" x2="145.5" y2="194.5" stroke="#1a1a1a" stroke-width="1" stroke-linecap="butt"/>
<text transform="translate(140.3,194.1) scale(0.92,1)" y="2.9" font-size="8.05" text-anchor="end" font-weight="normal" fill="#1a1a1a" stroke="#1a1a1a" stroke-width="0.17">10</text>
<line x1="144.9" y1="231.5" x2="381.25" y2="231.5" stroke="#1a1a1a" stroke-width="1.2" stroke-linecap="butt"/>
<line x1="162.5" y1="231.5" x2="162.5" y2="234" stroke="#1a1a1a" stroke-width="1.2" stroke-linecap="butt"/>
<text transform="translate(162.5,241.7)" y="2.95" font-size="8.2" text-anchor="middle" font-weight="normal" fill="#1a1a1a" stroke="#1a1a1a" stroke-width="0.17">C16</text>
<line x1="202.75" y1="231.5" x2="202.75" y2="234" stroke="#1a1a1a" stroke-width="1.2" stroke-linecap="butt"/>
<text transform="translate(202.75,241.7)" y="2.95" font-size="8.2" text-anchor="middle" font-weight="normal" fill="#1a1a1a" stroke="#1a1a1a" stroke-width="0.17">C14</text>
<line x1="243" y1="231.5" x2="243" y2="234" stroke="#1a1a1a" stroke-width="1.2" stroke-linecap="butt"/>
<text transform="translate(243,241.7)" y="2.95" font-size="8.2" text-anchor="middle" font-weight="normal" fill="#1a1a1a" stroke="#1a1a1a" stroke-width="0.17">C12</text>
<line x1="282.75" y1="231.5" x2="282.75" y2="234" stroke="#1a1a1a" stroke-width="1.2" stroke-linecap="butt"/>
<text transform="translate(282.75,241.7)" y="2.95" font-size="8.2" text-anchor="middle" font-weight="normal" fill="#1a1a1a" stroke="#1a1a1a" stroke-width="0.17">C10</text>
<line x1="323" y1="231.5" x2="323" y2="234" stroke="#1a1a1a" stroke-width="1.2" stroke-linecap="butt"/>
<text transform="translate(323,241.7)" y="2.95" font-size="8.2" text-anchor="middle" font-weight="normal" fill="#1a1a1a" stroke="#1a1a1a" stroke-width="0.17">C6</text>
<line x1="363" y1="231.5" x2="363" y2="234" stroke="#1a1a1a" stroke-width="1.2" stroke-linecap="butt"/>
<text transform="translate(363,241.7)" y="2.95" font-size="8.2" text-anchor="middle" font-weight="normal" fill="#1a1a1a" stroke="#1a1a1a" stroke-width="0.17">C2</text>
<text x="170.25" y="157.15" font-size="7.5" text-anchor="middle" fill="#1a1a1a" stroke="#1a1a1a" stroke-width="0.25">**</text>
<text x="210.25" y="214.85" font-size="7.5" text-anchor="middle" fill="#1a1a1a" stroke="#1a1a1a" stroke-width="0.25">*</text>
<text x="250.25" y="227.85" font-size="7.5" text-anchor="middle" fill="#1a1a1a" stroke="#1a1a1a" stroke-width="0.25">**</text>
<text x="290.25" y="228.65" font-size="7.5" text-anchor="middle" fill="#1a1a1a" stroke="#1a1a1a" stroke-width="0.25">**</text>
<text x="330.25" y="228.65" font-size="7.5" text-anchor="middle" fill="#1a1a1a" stroke="#1a1a1a" stroke-width="0.25">*</text>
<text x="370.25" y="212.35" font-size="7.5" text-anchor="middle" fill="#1a1a1a" stroke="#1a1a1a" stroke-width="0.25">***</text>
<text transform="translate(263.5,150)" y="3.38" font-size="9.4" text-anchor="middle" font-weight="normal" fill="#1a1a1a" stroke="#1a1a1a" stroke-width="0.17">Primary AML</text>
<text transform="translate(263.4,258.2) scale(0.73,1)" y="3.67" font-size="10.2" text-anchor="middle" font-weight="normal" fill="#1a1a1a" stroke="#1a1a1a" stroke-width="0.17"><tspan font-size="6.94" dy="-3.67">13</tspan><tspan dy="3.67" font-size="10.2">&#8203;</tspan><tspan>C</tspan><tspan> acyl-carnitine</tspan></text>
<text transform="translate(109.9,192.2) rotate(-90) scale(0.73,1)" y="3.67" font-size="10.2" text-anchor="middle" font-weight="normal" fill="#1a1a1a" stroke="#1a1a1a" stroke-width="0.17"><tspan font-size="6.94" dy="-3.67">13</tspan><tspan dy="3.67" font-size="10.2">&#8203;</tspan><tspan>C</tspan><tspan> acyl-carnitine</tspan></text>
<text transform="translate(121.7,192.3) rotate(-90) scale(0.75,1)" y="3.67" font-size="10.2" text-anchor="middle" font-weight="normal" fill="#1a1a1a" stroke="#1a1a1a" stroke-width="0.17"><tspan>(% of pool)</tspan></text>
<rect x="384.25" y="154.3" width="7.2" height="4.6" fill="#26477f" />
<text transform="translate(394.5,156.4)" y="2.63" font-size="7.3" text-anchor="start" font-weight="normal" fill="#1a1a1a" stroke="#1a1a1a" stroke-width="0.17">Vehicle</text>
<rect x="384.25" y="165.6" width="7.2" height="4.6" fill="#a9092e" />
<text transform="translate(394.5,167.7)" y="2.63" font-size="7.3" text-anchor="start" font-weight="normal" fill="#1a1a1a" stroke="#1a1a1a" stroke-width="0.17">AYNE</text>
<line x1="57" y1="251.94" x2="67" y2="294.99" stroke="#111" stroke-width="1.05" stroke-linecap="round"/>
<line x1="57" y1="256.46" x2="67" y2="295.99" stroke="#111" stroke-width="1.05" stroke-linecap="round"/>
<line x1="57" y1="258.3" x2="67" y2="296.83" stroke="#111" stroke-width="1.05" stroke-linecap="round"/>
<line x1="57" y1="267.18" x2="67" y2="297.5" stroke="#111" stroke-width="1.05" stroke-linecap="round"/>
<line x1="57" y1="275.05" x2="67" y2="297.83" stroke="#111" stroke-width="1.05" stroke-linecap="round"/>
<circle cx="57" cy="251.94" r="1.3" fill="#173b82"/>
<circle cx="67" cy="294.99" r="1.3" fill="#b30f2f"/>
<circle cx="57" cy="256.46" r="1.3" fill="#173b82"/>
<circle cx="67" cy="295.99" r="1.3" fill="#b30f2f"/>
<circle cx="57" cy="258.3" r="1.3" fill="#173b82"/>
<circle cx="67" cy="296.83" r="1.3" fill="#b30f2f"/>
<circle cx="57" cy="267.18" r="1.3" fill="#173b82"/>
<circle cx="67" cy="297.5" r="1.3" fill="#b30f2f"/>
<circle cx="57" cy="275.05" r="1.3" fill="#173b82"/>
<circle cx="67" cy="297.83" r="1.3" fill="#b30f2f"/>
<line x1="77.5" y1="248.42" x2="87.5" y2="246.24" stroke="#111" stroke-width="1.05" stroke-linecap="round"/>
<line x1="77.5" y1="252.78" x2="87.5" y2="254.12" stroke="#111" stroke-width="1.05" stroke-linecap="round"/>
<line x1="77.5" y1="252.78" x2="87.5" y2="255.29" stroke="#111" stroke-width="1.05" stroke-linecap="round"/>
<circle cx="77.5" cy="248.42" r="1.3" fill="#173b82"/>
<circle cx="87.5" cy="246.24" r="1.3" fill="#b30f2f"/>
<circle cx="77.5" cy="252.78" r="1.3" fill="#173b82"/>
<circle cx="87.5" cy="254.12" r="1.3" fill="#b30f2f"/>
<circle cx="77.5" cy="252.78" r="1.3" fill="#173b82"/>
<circle cx="87.5" cy="255.29" r="1.3" fill="#b30f2f"/>
<line x1="50.5" y1="228.6" x2="50.5" y2="298.6" stroke="#1a1a1a" stroke-width="1.2" stroke-linecap="butt"/>
<line x1="47.5" y1="298" x2="50.5" y2="298" stroke="#1a1a1a" stroke-width="1.2" stroke-linecap="butt"/>
<text transform="translate(44.5,297.6) scale(0.92,1)" y="2.9" font-size="8.05" text-anchor="end" font-weight="normal" fill="#1a1a1a" stroke="#1a1a1a" stroke-width="0.17">0</text>
<line x1="47.5" y1="281.25" x2="50.5" y2="281.25" stroke="#1a1a1a" stroke-width="1.2" stroke-linecap="butt"/>
<text transform="translate(44.5,280.85) scale(0.92,1)" y="2.9" font-size="8.05" text-anchor="end" font-weight="normal" fill="#1a1a1a" stroke="#1a1a1a" stroke-width="0.17">10</text>
<line x1="47.5" y1="264.5" x2="50.5" y2="264.5" stroke="#1a1a1a" stroke-width="1.2" stroke-linecap="butt"/>
<text transform="translate(44.5,264.1) scale(0.92,1)" y="2.9" font-size="8.05" text-anchor="end" font-weight="normal" fill="#1a1a1a" stroke="#1a1a1a" stroke-width="0.17">20</text>
<line x1="47.5" y1="247.75" x2="50.5" y2="247.75" stroke="#1a1a1a" stroke-width="1.2" stroke-linecap="butt"/>
<text transform="translate(44.5,247.35) scale(0.92,1)" y="2.9" font-size="8.05" text-anchor="end" font-weight="normal" fill="#1a1a1a" stroke="#1a1a1a" stroke-width="0.17">30</text>
<line x1="47.5" y1="231" x2="50.5" y2="231" stroke="#1a1a1a" stroke-width="1.2" stroke-linecap="butt"/>
<text transform="translate(44.5,230.6) scale(0.92,1)" y="2.9" font-size="8.05" text-anchor="end" font-weight="normal" fill="#1a1a1a" stroke="#1a1a1a" stroke-width="0.17">40</text>
<line x1="49.9" y1="298" x2="94.5" y2="298" stroke="#1a1a1a" stroke-width="1.2" stroke-linecap="butt"/>
<line x1="57" y1="298" x2="57" y2="301" stroke="#1a1a1a" stroke-width="1.2" stroke-linecap="butt"/>
<line x1="67" y1="298" x2="67" y2="301" stroke="#1a1a1a" stroke-width="1.2" stroke-linecap="butt"/>
<line x1="77.5" y1="298" x2="77.5" y2="301" stroke="#1a1a1a" stroke-width="1.2" stroke-linecap="butt"/>
<line x1="87.5" y1="298" x2="87.5" y2="301" stroke="#1a1a1a" stroke-width="1.2" stroke-linecap="butt"/>
<text transform="translate(58.5,305.2) rotate(-45)" y="2.84" font-size="7.9" text-anchor="end" font-weight="normal" fill="#1a1a1a" stroke="#1a1a1a" stroke-width="0.17">Vehicle</text>
<text transform="translate(68.5,305.2) rotate(-45)" y="2.84" font-size="7.9" text-anchor="end" font-weight="normal" fill="#1a1a1a" stroke="#1a1a1a" stroke-width="0.17">AYNE</text>
<text transform="translate(79,305.2) rotate(-45)" y="2.84" font-size="7.9" text-anchor="end" font-weight="normal" fill="#1a1a1a" stroke="#1a1a1a" stroke-width="0.17">Vehicle</text>
<text transform="translate(89,305.2) rotate(-45)" y="2.84" font-size="7.9" text-anchor="end" font-weight="normal" fill="#1a1a1a" stroke="#1a1a1a" stroke-width="0.17">AYNE</text>
<text transform="translate(72.9,229.9)" y="2.99" font-size="8.3" text-anchor="middle" font-weight="normal" fill="#1a1a1a" stroke="#1a1a1a" stroke-width="0.17">AML MNC</text>
<text x="68.2" y="283.45" font-size="7.5" text-anchor="middle" fill="#1a1a1a" stroke="#1a1a1a" stroke-width="0.25">**</text>
<text x="87.5" y="242.38" font-size="7.35" text-anchor="middle" fill="#1a1a1a" stroke="#1a1a1a" stroke-width="0.15">n.s.</text>
<text transform="translate(15.1,263.3) rotate(-90) scale(0.74,1)" y="3.67" font-size="10.2" text-anchor="middle" font-weight="normal" fill="#1a1a1a" stroke="#1a1a1a" stroke-width="0.17"><tspan>Palmitate-derived</tspan></text>
<text transform="translate(26,262.9) rotate(-90) scale(0.73,1)" y="3.67" font-size="10.2" text-anchor="middle" font-weight="normal" fill="#1a1a1a" stroke="#1a1a1a" stroke-width="0.17"><tspan font-size="6.94" dy="-3.67">13</tspan><tspan dy="3.67" font-size="10.2">&#8203;</tspan><tspan>C</tspan><tspan font-size="6.94" dy="2.04">2</tspan><tspan dy="-2.04" font-size="10.2">&#8203;</tspan><tspan> aspartate (% of pool)</tspan></text>
<line x1="57" y1="341.98" x2="67" y2="397.62" stroke="#111" stroke-width="1.05" stroke-linecap="round"/>
<line x1="57" y1="348.16" x2="67" y2="393.21" stroke="#111" stroke-width="1.05" stroke-linecap="round"/>
<line x1="57" y1="348.16" x2="67" y2="389.45" stroke="#111" stroke-width="1.05" stroke-linecap="round"/>
<line x1="57" y1="364.06" x2="67" y2="388.35" stroke="#111" stroke-width="1.05" stroke-linecap="round"/>
<line x1="57" y1="377.75" x2="67" y2="389.45" stroke="#111" stroke-width="1.05" stroke-linecap="round"/>
<circle cx="57" cy="341.98" r="1.3" fill="#173b82"/>
<circle cx="67" cy="397.62" r="1.3" fill="#b30f2f"/>
<circle cx="57" cy="348.16" r="1.3" fill="#173b82"/>
<circle cx="67" cy="393.21" r="1.3" fill="#b30f2f"/>
<circle cx="57" cy="348.16" r="1.3" fill="#173b82"/>
<circle cx="67" cy="389.45" r="1.3" fill="#b30f2f"/>
<circle cx="57" cy="364.06" r="1.3" fill="#173b82"/>
<circle cx="67" cy="388.35" r="1.3" fill="#b30f2f"/>
<circle cx="57" cy="377.75" r="1.3" fill="#173b82"/>
<circle cx="67" cy="389.45" r="1.3" fill="#b30f2f"/>
<circle cx="67" cy="401.38" r="1.3" fill="#b30f2f"/>
<line x1="77.5" y1="352.13" x2="87.5" y2="353.68" stroke="#111" stroke-width="1.05" stroke-linecap="round"/>
<line x1="77.5" y1="355.89" x2="87.5" y2="352.35" stroke="#111" stroke-width="1.05" stroke-linecap="round"/>
<line x1="77.5" y1="354.34" x2="87.5" y2="359.86" stroke="#111" stroke-width="1.05" stroke-linecap="round"/>
<circle cx="77.5" cy="352.13" r="1.3" fill="#173b82"/>
<circle cx="87.5" cy="353.68" r="1.3" fill="#b30f2f"/>
<circle cx="77.5" cy="355.89" r="1.3" fill="#173b82"/>
<circle cx="87.5" cy="352.35" r="1.3" fill="#b30f2f"/>
<circle cx="77.5" cy="354.34" r="1.3" fill="#173b82"/>
<circle cx="87.5" cy="359.86" r="1.3" fill="#b30f2f"/>
<line x1="50.5" y1="335.6" x2="50.5" y2="404.85" stroke="#1a1a1a" stroke-width="1.2" stroke-linecap="butt"/>
<line x1="47.5" y1="404.25" x2="50.5" y2="404.25" stroke="#1a1a1a" stroke-width="1.2" stroke-linecap="butt"/>
<text transform="translate(44.5,403.85) scale(0.92,1)" y="2.9" font-size="8.05" text-anchor="end" font-weight="normal" fill="#1a1a1a" stroke="#1a1a1a" stroke-width="0.17">0</text>
<line x1="47.5" y1="382.17" x2="50.5" y2="382.17" stroke="#1a1a1a" stroke-width="1.2" stroke-linecap="butt"/>
<text transform="translate(44.5,381.77) scale(0.92,1)" y="2.9" font-size="8.05" text-anchor="end" font-weight="normal" fill="#1a1a1a" stroke="#1a1a1a" stroke-width="0.17">10</text>
<line x1="47.5" y1="360.08" x2="50.5" y2="360.08" stroke="#1a1a1a" stroke-width="1.2" stroke-linecap="butt"/>
<text transform="translate(44.5,359.68) scale(0.92,1)" y="2.9" font-size="8.05" text-anchor="end" font-weight="normal" fill="#1a1a1a" stroke="#1a1a1a" stroke-width="0.17">20</text>
<line x1="47.5" y1="338" x2="50.5" y2="338" stroke="#1a1a1a" stroke-width="1.2" stroke-linecap="butt"/>
<text transform="translate(44.5,337.6) scale(0.92,1)" y="2.9" font-size="8.05" text-anchor="end" font-weight="normal" fill="#1a1a1a" stroke="#1a1a1a" stroke-width="0.17">30</text>
<line x1="49.9" y1="404.25" x2="94.5" y2="404.25" stroke="#1a1a1a" stroke-width="1.2" stroke-linecap="butt"/>
<line x1="57" y1="404.25" x2="57" y2="407.25" stroke="#1a1a1a" stroke-width="1.2" stroke-linecap="butt"/>
<line x1="67" y1="404.25" x2="67" y2="407.25" stroke="#1a1a1a" stroke-width="1.2" stroke-linecap="butt"/>
<line x1="77.5" y1="404.25" x2="77.5" y2="407.25" stroke="#1a1a1a" stroke-width="1.2" stroke-linecap="butt"/>
<line x1="87.5" y1="404.25" x2="87.5" y2="407.25" stroke="#1a1a1a" stroke-width="1.2" stroke-linecap="butt"/>
<text transform="translate(58.5,411.45) rotate(-45)" y="2.84" font-size="7.9" text-anchor="end" font-weight="normal" fill="#1a1a1a" stroke="#1a1a1a" stroke-width="0.17">Vehicle</text>
<text transform="translate(68.5,411.45) rotate(-45)" y="2.84" font-size="7.9" text-anchor="end" font-weight="normal" fill="#1a1a1a" stroke="#1a1a1a" stroke-width="0.17">AYNE</text>
<text transform="translate(79,411.45) rotate(-45)" y="2.84" font-size="7.9" text-anchor="end" font-weight="normal" fill="#1a1a1a" stroke="#1a1a1a" stroke-width="0.17">Vehicle</text>
<text transform="translate(89,411.45) rotate(-45)" y="2.84" font-size="7.9" text-anchor="end" font-weight="normal" fill="#1a1a1a" stroke="#1a1a1a" stroke-width="0.17">AYNE</text>
<text transform="translate(72.9,337.1)" y="2.99" font-size="8.3" text-anchor="middle" font-weight="normal" fill="#1a1a1a" stroke="#1a1a1a" stroke-width="0.17">AML MNC</text>
<text x="68.2" y="380.85" font-size="7.5" text-anchor="middle" fill="#1a1a1a" stroke="#1a1a1a" stroke-width="0.25">**</text>
<text x="87.5" y="347.88" font-size="7.35" text-anchor="middle" fill="#1a1a1a" stroke="#1a1a1a" stroke-width="0.15">n.s.</text>
<text transform="translate(15.1,369.8) rotate(-90) scale(0.74,1)" y="3.67" font-size="10.2" text-anchor="middle" font-weight="normal" fill="#1a1a1a" stroke="#1a1a1a" stroke-width="0.17"><tspan>Palmitate-derived</tspan></text>
<text transform="translate(26,369.5) rotate(-90) scale(0.74,1)" y="3.67" font-size="10.2" text-anchor="middle" font-weight="normal" fill="#1a1a1a" stroke="#1a1a1a" stroke-width="0.17"><tspan font-size="6.94" dy="-3.67">13</tspan><tspan dy="3.67" font-size="10.2">&#8203;</tspan><tspan>C</tspan><tspan font-size="6.94" dy="2.04">2</tspan><tspan dy="-2.04" font-size="10.2">&#8203;</tspan><tspan> malate (% of pool)</tspan></text>
<line x1="57" y1="457.05" x2="67" y2="505.62" stroke="#111" stroke-width="1.05" stroke-linecap="round"/>
<line x1="57" y1="463.75" x2="67" y2="509.98" stroke="#111" stroke-width="1.05" stroke-linecap="round"/>
<line x1="57" y1="473.8" x2="67" y2="512.49" stroke="#111" stroke-width="1.05" stroke-linecap="round"/>
<line x1="57" y1="495.74" x2="67" y2="505.62" stroke="#111" stroke-width="1.05" stroke-linecap="round"/>
<line x1="57" y1="500.6" x2="67" y2="514" stroke="#111" stroke-width="1.05" stroke-linecap="round"/>
<circle cx="57" cy="457.05" r="1.3" fill="#173b82"/>
<circle cx="67" cy="505.62" r="1.3" fill="#b30f2f"/>
<circle cx="57" cy="463.75" r="1.3" fill="#173b82"/>
<circle cx="67" cy="509.98" r="1.3" fill="#b30f2f"/>
<circle cx="57" cy="473.8" r="1.3" fill="#173b82"/>
<circle cx="67" cy="512.49" r="1.3" fill="#b30f2f"/>
<circle cx="57" cy="495.74" r="1.3" fill="#173b82"/>
<circle cx="67" cy="505.62" r="1.3" fill="#b30f2f"/>
<circle cx="57" cy="500.6" r="1.3" fill="#173b82"/>
<circle cx="67" cy="514" r="1.3" fill="#b30f2f"/>
<line x1="77.5" y1="480" x2="87.5" y2="514" stroke="#111" stroke-width="1.05" stroke-linecap="round"/>
<line x1="77.5" y1="503.28" x2="87.5" y2="504.95" stroke="#111" stroke-width="1.05" stroke-linecap="round"/>
<line x1="77.5" y1="509.48" x2="87.5" y2="508.31" stroke="#111" stroke-width="1.05" stroke-linecap="round"/>
<circle cx="77.5" cy="480" r="1.3" fill="#173b82"/>
<circle cx="87.5" cy="514" r="1.3" fill="#b30f2f"/>
<circle cx="77.5" cy="503.28" r="1.3" fill="#173b82"/>
<circle cx="87.5" cy="504.95" r="1.3" fill="#b30f2f"/>
<circle cx="77.5" cy="509.48" r="1.3" fill="#173b82"/>
<circle cx="87.5" cy="508.31" r="1.3" fill="#b30f2f"/>
<line x1="50.5" y1="444.6" x2="50.5" y2="514.6" stroke="#1a1a1a" stroke-width="1.2" stroke-linecap="butt"/>
<line x1="47.5" y1="514" x2="50.5" y2="514" stroke="#1a1a1a" stroke-width="1.2" stroke-linecap="butt"/>
<text transform="translate(44.5,513.6) scale(0.92,1)" y="2.9" font-size="8.05" text-anchor="end" font-weight="normal" fill="#1a1a1a" stroke="#1a1a1a" stroke-width="0.17">0</text>
<line x1="47.5" y1="497.25" x2="50.5" y2="497.25" stroke="#1a1a1a" stroke-width="1.2" stroke-linecap="butt"/>
<text transform="translate(44.5,496.85) scale(0.92,1)" y="2.9" font-size="8.05" text-anchor="end" font-weight="normal" fill="#1a1a1a" stroke="#1a1a1a" stroke-width="0.17">10</text>
<line x1="47.5" y1="480.5" x2="50.5" y2="480.5" stroke="#1a1a1a" stroke-width="1.2" stroke-linecap="butt"/>
<text transform="translate(44.5,480.1) scale(0.92,1)" y="2.9" font-size="8.05" text-anchor="end" font-weight="normal" fill="#1a1a1a" stroke="#1a1a1a" stroke-width="0.17">20</text>
<line x1="47.5" y1="463.75" x2="50.5" y2="463.75" stroke="#1a1a1a" stroke-width="1.2" stroke-linecap="butt"/>
<text transform="translate(44.5,463.35) scale(0.92,1)" y="2.9" font-size="8.05" text-anchor="end" font-weight="normal" fill="#1a1a1a" stroke="#1a1a1a" stroke-width="0.17">30</text>
<line x1="47.5" y1="447" x2="50.5" y2="447" stroke="#1a1a1a" stroke-width="1.2" stroke-linecap="butt"/>
<text transform="translate(44.5,446.6) scale(0.92,1)" y="2.9" font-size="8.05" text-anchor="end" font-weight="normal" fill="#1a1a1a" stroke="#1a1a1a" stroke-width="0.17">40</text>
<line x1="49.9" y1="514" x2="94.5" y2="514" stroke="#1a1a1a" stroke-width="1.2" stroke-linecap="butt"/>
<line x1="57" y1="514" x2="57" y2="517" stroke="#1a1a1a" stroke-width="1.2" stroke-linecap="butt"/>
<line x1="67" y1="514" x2="67" y2="517" stroke="#1a1a1a" stroke-width="1.2" stroke-linecap="butt"/>
<line x1="77.5" y1="514" x2="77.5" y2="517" stroke="#1a1a1a" stroke-width="1.2" stroke-linecap="butt"/>
<line x1="87.5" y1="514" x2="87.5" y2="517" stroke="#1a1a1a" stroke-width="1.2" stroke-linecap="butt"/>
<text transform="translate(58.5,521.2) rotate(-45)" y="2.84" font-size="7.9" text-anchor="end" font-weight="normal" fill="#1a1a1a" stroke="#1a1a1a" stroke-width="0.17">Vehicle</text>
<text transform="translate(68.5,521.2) rotate(-45)" y="2.84" font-size="7.9" text-anchor="end" font-weight="normal" fill="#1a1a1a" stroke="#1a1a1a" stroke-width="0.17">AYNE</text>
<text transform="translate(79,521.2) rotate(-45)" y="2.84" font-size="7.9" text-anchor="end" font-weight="normal" fill="#1a1a1a" stroke="#1a1a1a" stroke-width="0.17">Vehicle</text>
<text transform="translate(89,521.2) rotate(-45)" y="2.84" font-size="7.9" text-anchor="end" font-weight="normal" fill="#1a1a1a" stroke="#1a1a1a" stroke-width="0.17">AYNE</text>
<text transform="translate(72.9,446.1)" y="2.99" font-size="8.3" text-anchor="middle" font-weight="normal" fill="#1a1a1a" stroke="#1a1a1a" stroke-width="0.17">AML MNC</text>
<text x="67.6" y="497.05" font-size="7.5" text-anchor="middle" fill="#1a1a1a" stroke="#1a1a1a" stroke-width="0.25">*</text>
<text x="89.3" y="498.38" font-size="7.35" text-anchor="middle" fill="#1a1a1a" stroke="#1a1a1a" stroke-width="0.15">n.s.</text>
<text transform="translate(15.1,479.4) rotate(-90) scale(0.74,1)" y="3.67" font-size="10.2" text-anchor="middle" font-weight="normal" fill="#1a1a1a" stroke="#1a1a1a" stroke-width="0.17"><tspan>Palmitate-derived</tspan></text>
<text transform="translate(26,479.3) rotate(-90) scale(0.75,1)" y="3.67" font-size="10.2" text-anchor="middle" font-weight="normal" fill="#1a1a1a" stroke="#1a1a1a" stroke-width="0.17"><tspan font-size="6.94" dy="-3.67">13</tspan><tspan dy="3.67" font-size="10.2">&#8203;</tspan><tspan>C</tspan><tspan font-size="6.94" dy="2.04">2</tspan><tspan dy="-2.04" font-size="10.2">&#8203;</tspan><tspan> fumarate (% of pool)</tspan></text>
<line x1="481.25" y1="284.48" x2="500" y2="282.7" stroke="#111" stroke-width="1.05" stroke-linecap="round"/>
<line x1="481.25" y1="286.71" x2="500" y2="288.88" stroke="#111" stroke-width="1.05" stroke-linecap="round"/>
<line x1="481.25" y1="285.99" x2="500" y2="288.43" stroke="#111" stroke-width="1.05" stroke-linecap="round"/>
<circle cx="481.25" cy="284.48" r="1.3" fill="#173b82"/>
<circle cx="500" cy="282.7" r="1.3" fill="#b30f2f"/>
<circle cx="481.25" cy="286.71" r="1.3" fill="#173b82"/>
<circle cx="500" cy="288.88" r="1.3" fill="#b30f2f"/>
<circle cx="481.25" cy="285.99" r="1.3" fill="#173b82"/>
<circle cx="500" cy="288.43" r="1.3" fill="#b30f2f"/>
<line x1="468.75" y1="228.85" x2="468.75" y2="298.6" stroke="#1a1a1a" stroke-width="1.2" stroke-linecap="butt"/>
<line x1="465.75" y1="298" x2="468.75" y2="298" stroke="#1a1a1a" stroke-width="1.2" stroke-linecap="butt"/>
<text transform="translate(462.75,297.6) scale(0.92,1)" y="2.9" font-size="8.05" text-anchor="end" font-weight="normal" fill="#1a1a1a" stroke="#1a1a1a" stroke-width="0.17">0</text>
<line x1="465.75" y1="286.88" x2="468.75" y2="286.88" stroke="#1a1a1a" stroke-width="1.2" stroke-linecap="butt"/>
<text transform="translate(462.75,286.48) scale(0.92,1)" y="2.9" font-size="8.05" text-anchor="end" font-weight="normal" fill="#1a1a1a" stroke="#1a1a1a" stroke-width="0.17">20</text>
<line x1="465.75" y1="275.75" x2="468.75" y2="275.75" stroke="#1a1a1a" stroke-width="1.2" stroke-linecap="butt"/>
<text transform="translate(462.75,275.35) scale(0.92,1)" y="2.9" font-size="8.05" text-anchor="end" font-weight="normal" fill="#1a1a1a" stroke="#1a1a1a" stroke-width="0.17">40</text>
<line x1="465.75" y1="264.62" x2="468.75" y2="264.62" stroke="#1a1a1a" stroke-width="1.2" stroke-linecap="butt"/>
<text transform="translate(462.75,264.23) scale(0.92,1)" y="2.9" font-size="8.05" text-anchor="end" font-weight="normal" fill="#1a1a1a" stroke="#1a1a1a" stroke-width="0.17">60</text>
<line x1="465.75" y1="253.5" x2="468.75" y2="253.5" stroke="#1a1a1a" stroke-width="1.2" stroke-linecap="butt"/>
<text transform="translate(462.75,253.1) scale(0.92,1)" y="2.9" font-size="8.05" text-anchor="end" font-weight="normal" fill="#1a1a1a" stroke="#1a1a1a" stroke-width="0.17">80</text>
<line x1="465.75" y1="242.38" x2="468.75" y2="242.38" stroke="#1a1a1a" stroke-width="1.2" stroke-linecap="butt"/>
<text transform="translate(462.75,241.97) scale(0.92,1)" y="2.9" font-size="8.05" text-anchor="end" font-weight="normal" fill="#1a1a1a" stroke="#1a1a1a" stroke-width="0.17">100</text>
<line x1="465.75" y1="231.25" x2="468.75" y2="231.25" stroke="#1a1a1a" stroke-width="1.2" stroke-linecap="butt"/>
<text transform="translate(462.75,230.85) scale(0.92,1)" y="2.9" font-size="8.05" text-anchor="end" font-weight="normal" fill="#1a1a1a" stroke="#1a1a1a" stroke-width="0.17">120</text>
<line x1="468.15" y1="298" x2="512.5" y2="298" stroke="#1a1a1a" stroke-width="1.2" stroke-linecap="butt"/>
<line x1="481.25" y1="298" x2="481.25" y2="301" stroke="#1a1a1a" stroke-width="1.2" stroke-linecap="butt"/>
<line x1="500" y1="298" x2="500" y2="301" stroke="#1a1a1a" stroke-width="1.2" stroke-linecap="butt"/>
<text transform="translate(482.75,305.2) rotate(-45)" y="2.84" font-size="7.9" text-anchor="end" font-weight="normal" fill="#1a1a1a" stroke="#1a1a1a" stroke-width="0.17">Vehicle</text>
<text transform="translate(501.5,305.2) rotate(-45)" y="2.84" font-size="7.9" text-anchor="end" font-weight="normal" fill="#1a1a1a" stroke="#1a1a1a" stroke-width="0.17">AYNE</text>
<text transform="translate(490.6,230.1)" y="2.99" font-size="8.3" text-anchor="middle" font-weight="normal" fill="#1a1a1a" stroke="#1a1a1a" stroke-width="0.17">MNC</text>
<text x="500" y="278.38" font-size="7.35" text-anchor="middle" fill="#1a1a1a" stroke="#1a1a1a" stroke-width="0.15">n.s.</text>
<text transform="translate(429,263) rotate(-90) scale(0.77,1)" y="3.67" font-size="10.2" text-anchor="middle" font-weight="normal" fill="#1a1a1a" stroke="#1a1a1a" stroke-width="0.17"><tspan font-size="6.94" dy="-3.67">13</tspan><tspan dy="3.67" font-size="10.2">&#8203;</tspan><tspan>C</tspan><tspan font-size="6.94" dy="2.04">16</tspan><tspan dy="-2.04" font-size="10.2">&#8203;</tspan><tspan> palmitate</tspan></text>
<text transform="translate(441,263.2) rotate(-90) scale(0.74,1)" y="3.67" font-size="10.2" text-anchor="middle" font-weight="normal" fill="#1a1a1a" stroke="#1a1a1a" stroke-width="0.17"><tspan>(% of pool)</tspan></text>
<line x1="475" y1="350.27" x2="485" y2="400.33" stroke="#111" stroke-width="1.05" stroke-linecap="round"/>
<line x1="475" y1="358.11" x2="485" y2="397.82" stroke="#111" stroke-width="1.05" stroke-linecap="round"/>
<line x1="475" y1="361.28" x2="485" y2="396.16" stroke="#111" stroke-width="1.05" stroke-linecap="round"/>
<line x1="475" y1="363.28" x2="485" y2="394.9" stroke="#111" stroke-width="1.05" stroke-linecap="round"/>
<line x1="475" y1="387.56" x2="485" y2="403.67" stroke="#111" stroke-width="1.05" stroke-linecap="round"/>
<circle cx="475" cy="350.27" r="1.3" fill="#173b82"/>
<circle cx="485" cy="400.33" r="1.3" fill="#b30f2f"/>
<circle cx="475" cy="358.11" r="1.3" fill="#173b82"/>
<circle cx="485" cy="397.82" r="1.3" fill="#b30f2f"/>
<circle cx="475" cy="361.28" r="1.3" fill="#173b82"/>
<circle cx="485" cy="396.16" r="1.3" fill="#b30f2f"/>
<circle cx="475" cy="363.28" r="1.3" fill="#173b82"/>
<circle cx="485" cy="394.9" r="1.3" fill="#b30f2f"/>
<circle cx="475" cy="387.56" r="1.3" fill="#173b82"/>
<circle cx="485" cy="403.67" r="1.3" fill="#b30f2f"/>
<circle cx="485" cy="402" r="1.3" fill="#b30f2f"/>
<line x1="495.5" y1="357.52" x2="505.75" y2="348.26" stroke="#111" stroke-width="1.05" stroke-linecap="round"/>
<line x1="495.5" y1="361.28" x2="505.75" y2="356.77" stroke="#111" stroke-width="1.05" stroke-linecap="round"/>
<line x1="495.5" y1="362.78" x2="505.75" y2="360.28" stroke="#111" stroke-width="1.05" stroke-linecap="round"/>
<circle cx="495.5" cy="357.52" r="1.3" fill="#173b82"/>
<circle cx="505.75" cy="348.26" r="1.3" fill="#b30f2f"/>
<circle cx="495.5" cy="361.28" r="1.3" fill="#173b82"/>
<circle cx="505.75" cy="356.77" r="1.3" fill="#b30f2f"/>
<circle cx="495.5" cy="362.78" r="1.3" fill="#173b82"/>
<circle cx="505.75" cy="360.28" r="1.3" fill="#b30f2f"/>
<line x1="468.75" y1="335.35" x2="468.75" y2="405.1" stroke="#1a1a1a" stroke-width="1.2" stroke-linecap="butt"/>
<line x1="465.75" y1="404.5" x2="468.75" y2="404.5" stroke="#1a1a1a" stroke-width="1.2" stroke-linecap="butt"/>
<text transform="translate(462.75,404.1) scale(0.92,1)" y="2.9" font-size="8.05" text-anchor="end" font-weight="normal" fill="#1a1a1a" stroke="#1a1a1a" stroke-width="0.17">0</text>
<line x1="465.75" y1="387.81" x2="468.75" y2="387.81" stroke="#1a1a1a" stroke-width="1.2" stroke-linecap="butt"/>
<text transform="translate(462.75,387.41) scale(0.92,1)" y="2.9" font-size="8.05" text-anchor="end" font-weight="normal" fill="#1a1a1a" stroke="#1a1a1a" stroke-width="0.17">20</text>
<line x1="465.75" y1="371.12" x2="468.75" y2="371.12" stroke="#1a1a1a" stroke-width="1.2" stroke-linecap="butt"/>
<text transform="translate(462.75,370.73) scale(0.92,1)" y="2.9" font-size="8.05" text-anchor="end" font-weight="normal" fill="#1a1a1a" stroke="#1a1a1a" stroke-width="0.17">40</text>
<line x1="465.75" y1="354.44" x2="468.75" y2="354.44" stroke="#1a1a1a" stroke-width="1.2" stroke-linecap="butt"/>
<text transform="translate(462.75,354.04) scale(0.92,1)" y="2.9" font-size="8.05" text-anchor="end" font-weight="normal" fill="#1a1a1a" stroke="#1a1a1a" stroke-width="0.17">60</text>
<line x1="465.75" y1="337.75" x2="468.75" y2="337.75" stroke="#1a1a1a" stroke-width="1.2" stroke-linecap="butt"/>
<text transform="translate(462.75,337.35) scale(0.92,1)" y="2.9" font-size="8.05" text-anchor="end" font-weight="normal" fill="#1a1a1a" stroke="#1a1a1a" stroke-width="0.17">80</text>
<line x1="468.15" y1="404.5" x2="512.5" y2="404.5" stroke="#1a1a1a" stroke-width="1.2" stroke-linecap="butt"/>
<line x1="475" y1="404.5" x2="475" y2="407.5" stroke="#1a1a1a" stroke-width="1.2" stroke-linecap="butt"/>
<line x1="485" y1="404.5" x2="485" y2="407.5" stroke="#1a1a1a" stroke-width="1.2" stroke-linecap="butt"/>
<line x1="495.5" y1="404.5" x2="495.5" y2="407.5" stroke="#1a1a1a" stroke-width="1.2" stroke-linecap="butt"/>
<line x1="505.75" y1="404.5" x2="505.75" y2="407.5" stroke="#1a1a1a" stroke-width="1.2" stroke-linecap="butt"/>
<text transform="translate(476.5,411.7) rotate(-45)" y="2.84" font-size="7.9" text-anchor="end" font-weight="normal" fill="#1a1a1a" stroke="#1a1a1a" stroke-width="0.17">Vehicle</text>
<text transform="translate(486.5,411.7) rotate(-45)" y="2.84" font-size="7.9" text-anchor="end" font-weight="normal" fill="#1a1a1a" stroke="#1a1a1a" stroke-width="0.17">AYNE</text>
<text transform="translate(497,411.7) rotate(-45)" y="2.84" font-size="7.9" text-anchor="end" font-weight="normal" fill="#1a1a1a" stroke="#1a1a1a" stroke-width="0.17">Vehicle</text>
<text transform="translate(507.25,411.7) rotate(-45)" y="2.84" font-size="7.9" text-anchor="end" font-weight="normal" fill="#1a1a1a" stroke="#1a1a1a" stroke-width="0.17">AYNE</text>
<text transform="translate(491.3,337.1)" y="2.99" font-size="8.3" text-anchor="middle" font-weight="normal" fill="#1a1a1a" stroke="#1a1a1a" stroke-width="0.17">AML MNC</text>
<text x="485.8" y="380.85" font-size="7.5" text-anchor="middle" fill="#1a1a1a" stroke="#1a1a1a" stroke-width="0.25">**</text>
<text x="505.8" y="345.38" font-size="7.35" text-anchor="middle" fill="#1a1a1a" stroke="#1a1a1a" stroke-width="0.15">n.s.</text>
<text transform="translate(432.9,369.8) rotate(-90) scale(0.74,1)" y="3.67" font-size="10.2" text-anchor="middle" font-weight="normal" fill="#1a1a1a" stroke="#1a1a1a" stroke-width="0.17"><tspan>Palmitate-derived</tspan></text>
<text transform="translate(443.7,369.2) rotate(-90) scale(0.73,1)" y="3.67" font-size="10.2" text-anchor="middle" font-weight="normal" fill="#1a1a1a" stroke="#1a1a1a" stroke-width="0.17"><tspan font-size="6.94" dy="-3.67">13</tspan><tspan dy="3.67" font-size="10.2">&#8203;</tspan><tspan>C</tspan><tspan font-size="6.94" dy="2.04">2</tspan><tspan dy="-2.04" font-size="10.2">&#8203;</tspan><tspan> citrate (% of pool)</tspan></text>
<line x1="475" y1="465.91" x2="485" y2="502.07" stroke="#111" stroke-width="1.05" stroke-linecap="round"/>
<line x1="475" y1="468.14" x2="485" y2="502.62" stroke="#111" stroke-width="1.05" stroke-linecap="round"/>
<line x1="475" y1="474.26" x2="485" y2="503.18" stroke="#111" stroke-width="1.05" stroke-linecap="round"/>
<line x1="475" y1="494.84" x2="485" y2="502.62" stroke="#111" stroke-width="1.05" stroke-linecap="round"/>
<circle cx="475" cy="465.91" r="1.3" fill="#173b82"/>
<circle cx="485" cy="502.07" r="1.3" fill="#b30f2f"/>
<circle cx="475" cy="468.14" r="1.3" fill="#173b82"/>
<circle cx="485" cy="502.62" r="1.3" fill="#b30f2f"/>
<circle cx="475" cy="474.26" r="1.3" fill="#173b82"/>
<circle cx="485" cy="503.18" r="1.3" fill="#b30f2f"/>
<circle cx="475" cy="494.84" r="1.3" fill="#173b82"/>
<circle cx="485" cy="502.62" r="1.3" fill="#b30f2f"/>
<circle cx="485" cy="494.84" r="1.3" fill="#b30f2f"/>
<circle cx="485" cy="505.41" r="1.3" fill="#b30f2f"/>
<circle cx="485" cy="507.63" r="1.3" fill="#b30f2f"/>
<line x1="495.5" y1="465.91" x2="505.75" y2="474.81" stroke="#111" stroke-width="1.05" stroke-linecap="round"/>
<line x1="495.5" y1="477.04" x2="505.75" y2="457.01" stroke="#111" stroke-width="1.05" stroke-linecap="round"/>
<line x1="495.5" y1="477.04" x2="505.75" y2="475.37" stroke="#111" stroke-width="1.05" stroke-linecap="round"/>
<circle cx="495.5" cy="465.91" r="1.3" fill="#173b82"/>
<circle cx="505.75" cy="474.81" r="1.3" fill="#b30f2f"/>
<circle cx="495.5" cy="477.04" r="1.3" fill="#173b82"/>
<circle cx="505.75" cy="457.01" r="1.3" fill="#b30f2f"/>
<circle cx="495.5" cy="477.04" r="1.3" fill="#173b82"/>
<circle cx="505.75" cy="475.37" r="1.3" fill="#b30f2f"/>
<line x1="468.75" y1="444.6" x2="468.75" y2="514.35" stroke="#1a1a1a" stroke-width="1.2" stroke-linecap="butt"/>
<line x1="465.75" y1="513.75" x2="468.75" y2="513.75" stroke="#1a1a1a" stroke-width="1.2" stroke-linecap="butt"/>
<text transform="translate(462.75,513.35) scale(0.92,1)" y="2.9" font-size="8.05" text-anchor="end" font-weight="normal" fill="#1a1a1a" stroke="#1a1a1a" stroke-width="0.17">0</text>
<line x1="465.75" y1="491.5" x2="468.75" y2="491.5" stroke="#1a1a1a" stroke-width="1.2" stroke-linecap="butt"/>
<text transform="translate(462.75,491.1) scale(0.92,1)" y="2.9" font-size="8.05" text-anchor="end" font-weight="normal" fill="#1a1a1a" stroke="#1a1a1a" stroke-width="0.17">20</text>
<line x1="465.75" y1="469.25" x2="468.75" y2="469.25" stroke="#1a1a1a" stroke-width="1.2" stroke-linecap="butt"/>
<text transform="translate(462.75,468.85) scale(0.92,1)" y="2.9" font-size="8.05" text-anchor="end" font-weight="normal" fill="#1a1a1a" stroke="#1a1a1a" stroke-width="0.17">40</text>
<line x1="465.75" y1="447" x2="468.75" y2="447" stroke="#1a1a1a" stroke-width="1.2" stroke-linecap="butt"/>
<text transform="translate(462.75,446.6) scale(0.92,1)" y="2.9" font-size="8.05" text-anchor="end" font-weight="normal" fill="#1a1a1a" stroke="#1a1a1a" stroke-width="0.17">60</text>
<line x1="468.15" y1="513.75" x2="512.5" y2="513.75" stroke="#1a1a1a" stroke-width="1.2" stroke-linecap="butt"/>
<line x1="475" y1="513.75" x2="475" y2="516.75" stroke="#1a1a1a" stroke-width="1.2" stroke-linecap="butt"/>
<line x1="485" y1="513.75" x2="485" y2="516.75" stroke="#1a1a1a" stroke-width="1.2" stroke-linecap="butt"/>
<line x1="495.5" y1="513.75" x2="495.5" y2="516.75" stroke="#1a1a1a" stroke-width="1.2" stroke-linecap="butt"/>
<line x1="505.75" y1="513.75" x2="505.75" y2="516.75" stroke="#1a1a1a" stroke-width="1.2" stroke-linecap="butt"/>
<text transform="translate(476.5,520.95) rotate(-45)" y="2.84" font-size="7.9" text-anchor="end" font-weight="normal" fill="#1a1a1a" stroke="#1a1a1a" stroke-width="0.17">Vehicle</text>
<text transform="translate(486.5,520.95) rotate(-45)" y="2.84" font-size="7.9" text-anchor="end" font-weight="normal" fill="#1a1a1a" stroke="#1a1a1a" stroke-width="0.17">AYNE</text>
<text transform="translate(497,520.95) rotate(-45)" y="2.84" font-size="7.9" text-anchor="end" font-weight="normal" fill="#1a1a1a" stroke="#1a1a1a" stroke-width="0.17">Vehicle</text>
<text transform="translate(507.25,520.95) rotate(-45)" y="2.84" font-size="7.9" text-anchor="end" font-weight="normal" fill="#1a1a1a" stroke="#1a1a1a" stroke-width="0.17">AYNE</text>
<text transform="translate(491.3,446.3)" y="2.99" font-size="8.3" text-anchor="middle" font-weight="normal" fill="#1a1a1a" stroke="#1a1a1a" stroke-width="0.17">AML MNC</text>
<text x="485.8" y="490.35" font-size="7.5" text-anchor="middle" fill="#1a1a1a" stroke="#1a1a1a" stroke-width="0.25">**</text>
<text x="505.8" y="454.58" font-size="7.35" text-anchor="middle" fill="#1a1a1a" stroke="#1a1a1a" stroke-width="0.15">n.s.</text>
<text transform="translate(421.8,479.4) rotate(-90) scale(0.74,1)" y="3.67" font-size="10.2" text-anchor="middle" font-weight="normal" fill="#1a1a1a" stroke="#1a1a1a" stroke-width="0.17"><tspan>Palmitate-derived</tspan></text>
<text transform="translate(433.5,479.1) rotate(-90) scale(0.76,1)" y="3.67" font-size="10.2" text-anchor="middle" font-weight="normal" fill="#1a1a1a" stroke="#1a1a1a" stroke-width="0.17"><tspan font-size="6.94" dy="-3.67">13</tspan><tspan dy="3.67" font-size="10.2">&#8203;</tspan><tspan>C</tspan><tspan font-size="6.94" dy="2.04">2</tspan><tspan dy="-2.04" font-size="10.2">&#8203;</tspan><tspan> α-ketoglutarate</tspan></text>
<text transform="translate(444.7,479.2) rotate(-90) scale(0.74,1)" y="3.67" font-size="10.2" text-anchor="middle" font-weight="normal" fill="#1a1a1a" stroke="#1a1a1a" stroke-width="0.17"><tspan>(% of pool)</tspan></text>
<line x1="354.5" y1="371.96" x2="373.25" y2="371.57" stroke="#111" stroke-width="1.3" stroke-linecap="round"/>
<line x1="354.5" y1="371.51" x2="373.25" y2="372.07" stroke="#111" stroke-width="1.3" stroke-linecap="round"/>
<line x1="354.5" y1="372.35" x2="373.25" y2="371.24" stroke="#111" stroke-width="1.3" stroke-linecap="round"/>
<circle cx="354.5" cy="371.96" r="1.3" fill="#173b82"/>
<circle cx="373.25" cy="371.57" r="1.3" fill="#b30f2f"/>
<circle cx="354.5" cy="371.51" r="1.3" fill="#173b82"/>
<circle cx="373.25" cy="372.07" r="1.3" fill="#b30f2f"/>
<circle cx="354.5" cy="372.35" r="1.3" fill="#173b82"/>
<circle cx="373.25" cy="371.24" r="1.3" fill="#b30f2f"/>
<line x1="341.75" y1="335.35" x2="341.75" y2="405.1" stroke="#1a1a1a" stroke-width="1.2" stroke-linecap="butt"/>
<line x1="338.75" y1="404.5" x2="341.75" y2="404.5" stroke="#1a1a1a" stroke-width="1.2" stroke-linecap="butt"/>
<text transform="translate(335.75,404.1) scale(0.92,1)" y="2.9" font-size="8.05" text-anchor="end" font-weight="normal" fill="#1a1a1a" stroke="#1a1a1a" stroke-width="0.17">0</text>
<line x1="338.75" y1="393.38" x2="341.75" y2="393.38" stroke="#1a1a1a" stroke-width="1.2" stroke-linecap="butt"/>
<text transform="translate(335.75,392.98) scale(0.92,1)" y="2.9" font-size="8.05" text-anchor="end" font-weight="normal" fill="#1a1a1a" stroke="#1a1a1a" stroke-width="0.17">20</text>
<line x1="338.75" y1="382.25" x2="341.75" y2="382.25" stroke="#1a1a1a" stroke-width="1.2" stroke-linecap="butt"/>
<text transform="translate(335.75,381.85) scale(0.92,1)" y="2.9" font-size="8.05" text-anchor="end" font-weight="normal" fill="#1a1a1a" stroke="#1a1a1a" stroke-width="0.17">40</text>
<line x1="338.75" y1="371.12" x2="341.75" y2="371.12" stroke="#1a1a1a" stroke-width="1.2" stroke-linecap="butt"/>
<text transform="translate(335.75,370.73) scale(0.92,1)" y="2.9" font-size="8.05" text-anchor="end" font-weight="normal" fill="#1a1a1a" stroke="#1a1a1a" stroke-width="0.17">60</text>
<line x1="338.75" y1="360" x2="341.75" y2="360" stroke="#1a1a1a" stroke-width="1.2" stroke-linecap="butt"/>
<text transform="translate(335.75,359.6) scale(0.92,1)" y="2.9" font-size="8.05" text-anchor="end" font-weight="normal" fill="#1a1a1a" stroke="#1a1a1a" stroke-width="0.17">80</text>
<line x1="338.75" y1="348.88" x2="341.75" y2="348.88" stroke="#1a1a1a" stroke-width="1.2" stroke-linecap="butt"/>
<text transform="translate(335.75,348.48) scale(0.92,1)" y="2.9" font-size="8.05" text-anchor="end" font-weight="normal" fill="#1a1a1a" stroke="#1a1a1a" stroke-width="0.17">100</text>
<line x1="338.75" y1="337.75" x2="341.75" y2="337.75" stroke="#1a1a1a" stroke-width="1.2" stroke-linecap="butt"/>
<text transform="translate(335.75,337.35) scale(0.92,1)" y="2.9" font-size="8.05" text-anchor="end" font-weight="normal" fill="#1a1a1a" stroke="#1a1a1a" stroke-width="0.17">120</text>
<line x1="341.15" y1="404.5" x2="386.25" y2="404.5" stroke="#1a1a1a" stroke-width="1.2" stroke-linecap="butt"/>
<line x1="354.5" y1="404.5" x2="354.5" y2="407.5" stroke="#1a1a1a" stroke-width="1.2" stroke-linecap="butt"/>
<line x1="373.25" y1="404.5" x2="373.25" y2="407.5" stroke="#1a1a1a" stroke-width="1.2" stroke-linecap="butt"/>
<text transform="translate(356,411.7) rotate(-45)" y="2.84" font-size="7.9" text-anchor="end" font-weight="normal" fill="#1a1a1a" stroke="#1a1a1a" stroke-width="0.17">Vehicle</text>
<text transform="translate(374.75,411.7) rotate(-45)" y="2.84" font-size="7.9" text-anchor="end" font-weight="normal" fill="#1a1a1a" stroke="#1a1a1a" stroke-width="0.17">AYNE</text>
<text transform="translate(364.4,336.9)" y="2.99" font-size="8.3" text-anchor="middle" font-weight="normal" fill="#1a1a1a" stroke="#1a1a1a" stroke-width="0.17">MNC</text>
<text x="373.3" y="365.88" font-size="7.35" text-anchor="middle" fill="#1a1a1a" stroke="#1a1a1a" stroke-width="0.15">n.s.</text>
<text transform="translate(302.4,369.4) rotate(-90) scale(0.74,1)" y="3.67" font-size="10.2" text-anchor="middle" font-weight="normal" fill="#1a1a1a" stroke="#1a1a1a" stroke-width="0.17"><tspan>Palmitate-derived </tspan><tspan font-size="6.94" dy="-3.67">13</tspan><tspan dy="3.67" font-size="10.2">&#8203;</tspan><tspan>C</tspan><tspan font-size="6.94" dy="2.04">2</tspan><tspan dy="-2.04" font-size="10.2">&#8203;</tspan><tspan> acetyl-</tspan></text>
<text transform="translate(313.3,369.5) rotate(-90) scale(0.74,1)" y="3.67" font-size="10.2" text-anchor="middle" font-weight="normal" fill="#1a1a1a" stroke="#1a1a1a" stroke-width="0.17"><tspan>carnitine (% of pool)</tspan></text>
<line x1="164.6" y1="570.44" x2="174.6" y2="581.5" stroke="#111" stroke-width="1.05" stroke-linecap="round"/>
<line x1="164.6" y1="576.47" x2="174.6" y2="587.19" stroke="#111" stroke-width="1.05" stroke-linecap="round"/>
<line x1="164.6" y1="583.5" x2="174.6" y2="590.67" stroke="#111" stroke-width="1.05" stroke-linecap="round"/>
<line x1="164.6" y1="587.86" x2="174.6" y2="591.88" stroke="#111" stroke-width="1.05" stroke-linecap="round"/>
<line x1="164.6" y1="590.21" x2="174.6" y2="591.88" stroke="#111" stroke-width="1.05" stroke-linecap="round"/>
<line x1="164.6" y1="591.21" x2="174.6" y2="592.22" stroke="#111" stroke-width="1.05" stroke-linecap="round"/>
<line x1="164.6" y1="595.9" x2="174.6" y2="591.54" stroke="#111" stroke-width="1.05" stroke-linecap="round"/>
<circle cx="164.6" cy="570.44" r="1.3" fill="#173b82"/>
<circle cx="174.6" cy="581.5" r="1.3" fill="#b30f2f"/>
<circle cx="164.6" cy="576.47" r="1.3" fill="#173b82"/>
<circle cx="174.6" cy="587.19" r="1.3" fill="#b30f2f"/>
<circle cx="164.6" cy="583.5" r="1.3" fill="#173b82"/>
<circle cx="174.6" cy="590.67" r="1.3" fill="#b30f2f"/>
<circle cx="164.6" cy="587.86" r="1.3" fill="#173b82"/>
<circle cx="174.6" cy="591.88" r="1.3" fill="#b30f2f"/>
<circle cx="164.6" cy="590.21" r="1.3" fill="#173b82"/>
<circle cx="174.6" cy="591.88" r="1.3" fill="#b30f2f"/>
<circle cx="164.6" cy="591.21" r="1.3" fill="#173b82"/>
<circle cx="174.6" cy="592.22" r="1.3" fill="#b30f2f"/>
<circle cx="164.6" cy="595.9" r="1.3" fill="#173b82"/>
<circle cx="174.6" cy="591.54" r="1.3" fill="#b30f2f"/>
<circle cx="174.6" cy="593.55" r="1.3" fill="#b30f2f"/>
<circle cx="174.6" cy="594.89" r="1.3" fill="#b30f2f"/>
<line x1="185" y1="585.98" x2="195" y2="596.97" stroke="#111" stroke-width="1.05" stroke-linecap="round"/>
<line x1="185" y1="585.98" x2="195" y2="592.75" stroke="#111" stroke-width="1.05" stroke-linecap="round"/>
<line x1="185" y1="591.01" x2="195" y2="592.75" stroke="#111" stroke-width="1.05" stroke-linecap="round"/>
<line x1="185" y1="591.01" x2="195" y2="601.53" stroke="#111" stroke-width="1.05" stroke-linecap="round"/>
<line x1="185" y1="597.24" x2="195" y2="600.25" stroke="#111" stroke-width="1.05" stroke-linecap="round"/>
<line x1="185" y1="607.49" x2="195" y2="601.26" stroke="#111" stroke-width="1.05" stroke-linecap="round"/>
<circle cx="185" cy="585.98" r="1.3" fill="#173b82"/>
<circle cx="195" cy="596.97" r="1.3" fill="#b30f2f"/>
<circle cx="185" cy="591.01" r="1.3" fill="#173b82"/>
<circle cx="195" cy="592.75" r="1.3" fill="#b30f2f"/>
<circle cx="185" cy="591.01" r="1.3" fill="#173b82"/>
<circle cx="195" cy="601.53" r="1.3" fill="#b30f2f"/>
<circle cx="185" cy="597.24" r="1.3" fill="#173b82"/>
<circle cx="195" cy="600.25" r="1.3" fill="#b30f2f"/>
<circle cx="185" cy="607.49" r="1.3" fill="#173b82"/>
<circle cx="195" cy="601.26" r="1.3" fill="#b30f2f"/>
<circle cx="195" cy="603" r="1.3" fill="#b30f2f"/>
<line x1="157.7" y1="546.6" x2="157.7" y2="616.6" stroke="#1a1a1a" stroke-width="1.2" stroke-linecap="butt"/>
<line x1="154.7" y1="616" x2="157.7" y2="616" stroke="#1a1a1a" stroke-width="1.2" stroke-linecap="butt"/>
<text transform="translate(151.7,615.6) scale(0.92,1)" y="2.9" font-size="8.05" text-anchor="end" font-weight="normal" fill="#1a1a1a" stroke="#1a1a1a" stroke-width="0.17">0</text>
<line x1="154.7" y1="602.6" x2="157.7" y2="602.6" stroke="#1a1a1a" stroke-width="1.2" stroke-linecap="butt"/>
<text transform="translate(151.7,602.2) scale(0.92,1)" y="2.9" font-size="8.05" text-anchor="end" font-weight="normal" fill="#1a1a1a" stroke="#1a1a1a" stroke-width="0.17">20</text>
<line x1="154.7" y1="589.2" x2="157.7" y2="589.2" stroke="#1a1a1a" stroke-width="1.2" stroke-linecap="butt"/>
<text transform="translate(151.7,588.8) scale(0.92,1)" y="2.9" font-size="8.05" text-anchor="end" font-weight="normal" fill="#1a1a1a" stroke="#1a1a1a" stroke-width="0.17">40</text>
<line x1="154.7" y1="575.8" x2="157.7" y2="575.8" stroke="#1a1a1a" stroke-width="1.2" stroke-linecap="butt"/>
<text transform="translate(151.7,575.4) scale(0.92,1)" y="2.9" font-size="8.05" text-anchor="end" font-weight="normal" fill="#1a1a1a" stroke="#1a1a1a" stroke-width="0.17">60</text>
<line x1="154.7" y1="562.4" x2="157.7" y2="562.4" stroke="#1a1a1a" stroke-width="1.2" stroke-linecap="butt"/>
<text transform="translate(151.7,562) scale(0.92,1)" y="2.9" font-size="8.05" text-anchor="end" font-weight="normal" fill="#1a1a1a" stroke="#1a1a1a" stroke-width="0.17">80</text>
<line x1="154.7" y1="549" x2="157.7" y2="549" stroke="#1a1a1a" stroke-width="1.2" stroke-linecap="butt"/>
<text transform="translate(151.7,548.6) scale(0.92,1)" y="2.9" font-size="8.05" text-anchor="end" font-weight="normal" fill="#1a1a1a" stroke="#1a1a1a" stroke-width="0.17">100</text>
<line x1="157.1" y1="616" x2="202" y2="616" stroke="#1a1a1a" stroke-width="1.2" stroke-linecap="butt"/>
<line x1="164.6" y1="616" x2="164.6" y2="619" stroke="#1a1a1a" stroke-width="1.2" stroke-linecap="butt"/>
<line x1="174.6" y1="616" x2="174.6" y2="619" stroke="#1a1a1a" stroke-width="1.2" stroke-linecap="butt"/>
<line x1="185" y1="616" x2="185" y2="619" stroke="#1a1a1a" stroke-width="1.2" stroke-linecap="butt"/>
<line x1="195" y1="616" x2="195" y2="619" stroke="#1a1a1a" stroke-width="1.2" stroke-linecap="butt"/>
<text transform="translate(166.1,623.2) rotate(-45)" y="2.84" font-size="7.9" text-anchor="end" font-weight="normal" fill="#1a1a1a" stroke="#1a1a1a" stroke-width="0.17">Vehicle</text>
<text transform="translate(176.1,623.2) rotate(-45)" y="2.84" font-size="7.9" text-anchor="end" font-weight="normal" fill="#1a1a1a" stroke="#1a1a1a" stroke-width="0.17">AYNE</text>
<text transform="translate(186.5,623.2) rotate(-45)" y="2.84" font-size="7.9" text-anchor="end" font-weight="normal" fill="#1a1a1a" stroke="#1a1a1a" stroke-width="0.17">Vehicle</text>
<text transform="translate(196.5,623.2) rotate(-45)" y="2.84" font-size="7.9" text-anchor="end" font-weight="normal" fill="#1a1a1a" stroke="#1a1a1a" stroke-width="0.17">AYNE</text>
<text transform="translate(180.5,548.3)" y="2.99" font-size="8.3" text-anchor="middle" font-weight="normal" fill="#1a1a1a" stroke="#1a1a1a" stroke-width="0.17">AML MNC</text>
<text x="174.7" y="575.38" font-size="7.35" text-anchor="middle" fill="#1a1a1a" stroke="#1a1a1a" stroke-width="0.15">n.s.</text>
<text x="195.2" y="588.68" font-size="7.35" text-anchor="middle" fill="#1a1a1a" stroke="#1a1a1a" stroke-width="0.15">n.s.</text>
<text transform="translate(118.3,581.6) rotate(-90) scale(0.71,1)" y="3.67" font-size="10.2" text-anchor="middle" font-weight="normal" fill="#1a1a1a" stroke="#1a1a1a" stroke-width="0.17"><tspan>Glucose-derived</tspan></text>
<text transform="translate(129.9,581.1) rotate(-90) scale(0.74,1)" y="3.67" font-size="10.2" text-anchor="middle" font-weight="normal" fill="#1a1a1a" stroke="#1a1a1a" stroke-width="0.17"><tspan font-size="6.94" dy="-3.67">13</tspan><tspan dy="3.67" font-size="10.2">&#8203;</tspan><tspan>C</tspan><tspan font-size="6.94" dy="2.04">3</tspan><tspan dy="-2.04" font-size="10.2">&#8203;</tspan><tspan> pyruvate (% of pool)</tspan></text>
<line x1="266.25" y1="563.47" x2="276.25" y2="560.26" stroke="#111" stroke-width="1.05" stroke-linecap="round"/>
<line x1="266.25" y1="564.41" x2="276.25" y2="565.28" stroke="#111" stroke-width="1.05" stroke-linecap="round"/>
<line x1="266.25" y1="576" x2="276.25" y2="575" stroke="#111" stroke-width="1.05" stroke-linecap="round"/>
<line x1="266.25" y1="592.75" x2="276.25" y2="570.24" stroke="#111" stroke-width="1.05" stroke-linecap="round"/>
<line x1="266.25" y1="596.77" x2="276.25" y2="591.48" stroke="#111" stroke-width="1.05" stroke-linecap="round"/>
<line x1="266.25" y1="605.28" x2="276.25" y2="594.23" stroke="#111" stroke-width="1.05" stroke-linecap="round"/>
<circle cx="266.25" cy="563.47" r="1.3" fill="#173b82"/>
<circle cx="276.25" cy="560.26" r="1.3" fill="#b30f2f"/>
<circle cx="266.25" cy="564.41" r="1.3" fill="#173b82"/>
<circle cx="276.25" cy="565.28" r="1.3" fill="#b30f2f"/>
<circle cx="266.25" cy="576" r="1.3" fill="#173b82"/>
<circle cx="276.25" cy="575" r="1.3" fill="#b30f2f"/>
<circle cx="266.25" cy="592.75" r="1.3" fill="#173b82"/>
<circle cx="276.25" cy="570.24" r="1.3" fill="#b30f2f"/>
<circle cx="266.25" cy="596.77" r="1.3" fill="#173b82"/>
<circle cx="276.25" cy="591.48" r="1.3" fill="#b30f2f"/>
<circle cx="266.25" cy="605.28" r="1.3" fill="#173b82"/>
<circle cx="276.25" cy="594.23" r="1.3" fill="#b30f2f"/>
<circle cx="276.25" cy="592.55" r="1.3" fill="#b30f2f"/>
<line x1="286.75" y1="577.27" x2="296.75" y2="575" stroke="#111" stroke-width="1.05" stroke-linecap="round"/>
<line x1="286.75" y1="589.53" x2="296.75" y2="591.48" stroke="#111" stroke-width="1.05" stroke-linecap="round"/>
<line x1="286.75" y1="591.48" x2="296.75" y2="595.03" stroke="#111" stroke-width="1.05" stroke-linecap="round"/>
<line x1="286.75" y1="593.49" x2="296.75" y2="598.51" stroke="#111" stroke-width="1.05" stroke-linecap="round"/>
<line x1="286.75" y1="595.23" x2="296.75" y2="603.27" stroke="#111" stroke-width="1.05" stroke-linecap="round"/>
<circle cx="286.75" cy="577.27" r="1.3" fill="#173b82"/>
<circle cx="296.75" cy="575" r="1.3" fill="#b30f2f"/>
<circle cx="286.75" cy="589.53" r="1.3" fill="#173b82"/>
<circle cx="296.75" cy="591.48" r="1.3" fill="#b30f2f"/>
<circle cx="286.75" cy="591.48" r="1.3" fill="#173b82"/>
<circle cx="296.75" cy="595.03" r="1.3" fill="#b30f2f"/>
<circle cx="286.75" cy="593.49" r="1.3" fill="#173b82"/>
<circle cx="296.75" cy="598.51" r="1.3" fill="#b30f2f"/>
<circle cx="286.75" cy="595.23" r="1.3" fill="#173b82"/>
<circle cx="296.75" cy="603.27" r="1.3" fill="#b30f2f"/>
<line x1="259.5" y1="546.6" x2="259.5" y2="616.6" stroke="#1a1a1a" stroke-width="1.2" stroke-linecap="butt"/>
<line x1="256.5" y1="616" x2="259.5" y2="616" stroke="#1a1a1a" stroke-width="1.2" stroke-linecap="butt"/>
<text transform="translate(253.5,615.6) scale(0.92,1)" y="2.9" font-size="8.05" text-anchor="end" font-weight="normal" fill="#1a1a1a" stroke="#1a1a1a" stroke-width="0.17">0</text>
<line x1="256.5" y1="602.6" x2="259.5" y2="602.6" stroke="#1a1a1a" stroke-width="1.2" stroke-linecap="butt"/>
<text transform="translate(253.5,602.2) scale(0.92,1)" y="2.9" font-size="8.05" text-anchor="end" font-weight="normal" fill="#1a1a1a" stroke="#1a1a1a" stroke-width="0.17">20</text>
<line x1="256.5" y1="589.2" x2="259.5" y2="589.2" stroke="#1a1a1a" stroke-width="1.2" stroke-linecap="butt"/>
<text transform="translate(253.5,588.8) scale(0.92,1)" y="2.9" font-size="8.05" text-anchor="end" font-weight="normal" fill="#1a1a1a" stroke="#1a1a1a" stroke-width="0.17">40</text>
<line x1="256.5" y1="575.8" x2="259.5" y2="575.8" stroke="#1a1a1a" stroke-width="1.2" stroke-linecap="butt"/>
<text transform="translate(253.5,575.4) scale(0.92,1)" y="2.9" font-size="8.05" text-anchor="end" font-weight="normal" fill="#1a1a1a" stroke="#1a1a1a" stroke-width="0.17">60</text>
<line x1="256.5" y1="562.4" x2="259.5" y2="562.4" stroke="#1a1a1a" stroke-width="1.2" stroke-linecap="butt"/>
<text transform="translate(253.5,562) scale(0.92,1)" y="2.9" font-size="8.05" text-anchor="end" font-weight="normal" fill="#1a1a1a" stroke="#1a1a1a" stroke-width="0.17">80</text>
<line x1="256.5" y1="549" x2="259.5" y2="549" stroke="#1a1a1a" stroke-width="1.2" stroke-linecap="butt"/>
<text transform="translate(253.5,548.6) scale(0.92,1)" y="2.9" font-size="8.05" text-anchor="end" font-weight="normal" fill="#1a1a1a" stroke="#1a1a1a" stroke-width="0.17">100</text>
<line x1="258.9" y1="616" x2="303.75" y2="616" stroke="#1a1a1a" stroke-width="1.2" stroke-linecap="butt"/>
<line x1="266.25" y1="616" x2="266.25" y2="619" stroke="#1a1a1a" stroke-width="1.2" stroke-linecap="butt"/>
<line x1="276.25" y1="616" x2="276.25" y2="619" stroke="#1a1a1a" stroke-width="1.2" stroke-linecap="butt"/>
<line x1="286.75" y1="616" x2="286.75" y2="619" stroke="#1a1a1a" stroke-width="1.2" stroke-linecap="butt"/>
<line x1="296.75" y1="616" x2="296.75" y2="619" stroke="#1a1a1a" stroke-width="1.2" stroke-linecap="butt"/>
<text transform="translate(267.75,623.2) rotate(-45)" y="2.84" font-size="7.9" text-anchor="end" font-weight="normal" fill="#1a1a1a" stroke="#1a1a1a" stroke-width="0.17">Vehicle</text>
<text transform="translate(277.75,623.2) rotate(-45)" y="2.84" font-size="7.9" text-anchor="end" font-weight="normal" fill="#1a1a1a" stroke="#1a1a1a" stroke-width="0.17">AYNE</text>
<text transform="translate(288.25,623.2) rotate(-45)" y="2.84" font-size="7.9" text-anchor="end" font-weight="normal" fill="#1a1a1a" stroke="#1a1a1a" stroke-width="0.17">Vehicle</text>
<text transform="translate(298.25,623.2) rotate(-45)" y="2.84" font-size="7.9" text-anchor="end" font-weight="normal" fill="#1a1a1a" stroke="#1a1a1a" stroke-width="0.17">AYNE</text>
<text transform="translate(282,548.3)" y="2.99" font-size="8.3" text-anchor="middle" font-weight="normal" fill="#1a1a1a" stroke="#1a1a1a" stroke-width="0.17">AML MNC</text>
<text x="276.4" y="557.38" font-size="7.35" text-anchor="middle" fill="#1a1a1a" stroke="#1a1a1a" stroke-width="0.15">n.s.</text>
<text x="296.9" y="572.38" font-size="7.35" text-anchor="middle" fill="#1a1a1a" stroke="#1a1a1a" stroke-width="0.15">n.s.</text>
<text transform="translate(220.3,581.6) rotate(-90) scale(0.71,1)" y="3.67" font-size="10.2" text-anchor="middle" font-weight="normal" fill="#1a1a1a" stroke="#1a1a1a" stroke-width="0.17"><tspan>Glucose-derived</tspan></text>
<text transform="translate(231.8,580.1) rotate(-90) scale(0.73,1)" y="3.67" font-size="10.2" text-anchor="middle" font-weight="normal" fill="#1a1a1a" stroke="#1a1a1a" stroke-width="0.17"><tspan font-size="6.94" dy="-3.67">13</tspan><tspan dy="3.67" font-size="10.2">&#8203;</tspan><tspan>C</tspan><tspan font-size="6.94" dy="2.04">3</tspan><tspan dy="-2.04" font-size="10.2">&#8203;</tspan><tspan> lactate (% of pool)</tspan></text>
<line x1="367.9" y1="606.62" x2="377.9" y2="586.99" stroke="#111" stroke-width="1.05" stroke-linecap="round"/>
<line x1="367.9" y1="607.96" x2="377.9" y2="589" stroke="#111" stroke-width="1.05" stroke-linecap="round"/>
<line x1="367.9" y1="609.3" x2="377.9" y2="590.74" stroke="#111" stroke-width="1.05" stroke-linecap="round"/>
<line x1="367.9" y1="610.64" x2="377.9" y2="594.56" stroke="#111" stroke-width="1.05" stroke-linecap="round"/>
<line x1="367.9" y1="612.65" x2="377.9" y2="596.57" stroke="#111" stroke-width="1.05" stroke-linecap="round"/>
<line x1="367.9" y1="614.66" x2="377.9" y2="599.52" stroke="#111" stroke-width="1.05" stroke-linecap="round"/>
<line x1="367.9" y1="616" x2="377.9" y2="594.56" stroke="#111" stroke-width="1.05" stroke-linecap="round"/>
<circle cx="367.9" cy="606.62" r="1.3" fill="#173b82"/>
<circle cx="377.9" cy="586.99" r="1.3" fill="#b30f2f"/>
<circle cx="367.9" cy="607.96" r="1.3" fill="#173b82"/>
<circle cx="377.9" cy="589" r="1.3" fill="#b30f2f"/>
<circle cx="367.9" cy="609.3" r="1.3" fill="#173b82"/>
<circle cx="377.9" cy="590.74" r="1.3" fill="#b30f2f"/>
<circle cx="367.9" cy="610.64" r="1.3" fill="#173b82"/>
<circle cx="377.9" cy="594.56" r="1.3" fill="#b30f2f"/>
<circle cx="367.9" cy="612.65" r="1.3" fill="#173b82"/>
<circle cx="377.9" cy="596.57" r="1.3" fill="#b30f2f"/>
<circle cx="367.9" cy="614.66" r="1.3" fill="#173b82"/>
<circle cx="377.9" cy="599.52" r="1.3" fill="#b30f2f"/>
<circle cx="367.9" cy="616" r="1.3" fill="#173b82"/>
<circle cx="377.9" cy="594.56" r="1.3" fill="#b30f2f"/>
<line x1="388.3" y1="605.95" x2="398.3" y2="607.29" stroke="#111" stroke-width="1.05" stroke-linecap="round"/>
<line x1="388.3" y1="607.76" x2="398.3" y2="590.27" stroke="#111" stroke-width="1.05" stroke-linecap="round"/>
<line x1="388.3" y1="609.5" x2="398.3" y2="612.72" stroke="#111" stroke-width="1.05" stroke-linecap="round"/>
<line x1="388.3" y1="613.32" x2="398.3" y2="614.53" stroke="#111" stroke-width="1.05" stroke-linecap="round"/>
<circle cx="388.3" cy="605.95" r="1.3" fill="#173b82"/>
<circle cx="398.3" cy="607.29" r="1.3" fill="#b30f2f"/>
<circle cx="388.3" cy="607.76" r="1.3" fill="#173b82"/>
<circle cx="398.3" cy="590.27" r="1.3" fill="#b30f2f"/>
<circle cx="388.3" cy="609.5" r="1.3" fill="#173b82"/>
<circle cx="398.3" cy="612.72" r="1.3" fill="#b30f2f"/>
<circle cx="388.3" cy="613.32" r="1.3" fill="#173b82"/>
<circle cx="398.3" cy="614.53" r="1.3" fill="#b30f2f"/>
<line x1="360.9" y1="546.6" x2="360.9" y2="616.6" stroke="#1a1a1a" stroke-width="1.2" stroke-linecap="butt"/>
<line x1="357.9" y1="616" x2="360.9" y2="616" stroke="#1a1a1a" stroke-width="1.2" stroke-linecap="butt"/>
<text transform="translate(354.9,615.6) scale(0.92,1)" y="2.9" font-size="8.05" text-anchor="end" font-weight="normal" fill="#1a1a1a" stroke="#1a1a1a" stroke-width="0.17">0</text>
<line x1="357.9" y1="602.6" x2="360.9" y2="602.6" stroke="#1a1a1a" stroke-width="1.2" stroke-linecap="butt"/>
<text transform="translate(354.9,602.2) scale(0.92,1)" y="2.9" font-size="8.05" text-anchor="end" font-weight="normal" fill="#1a1a1a" stroke="#1a1a1a" stroke-width="0.17">20</text>
<line x1="357.9" y1="589.2" x2="360.9" y2="589.2" stroke="#1a1a1a" stroke-width="1.2" stroke-linecap="butt"/>
<text transform="translate(354.9,588.8) scale(0.92,1)" y="2.9" font-size="8.05" text-anchor="end" font-weight="normal" fill="#1a1a1a" stroke="#1a1a1a" stroke-width="0.17">40</text>
<line x1="357.9" y1="575.8" x2="360.9" y2="575.8" stroke="#1a1a1a" stroke-width="1.2" stroke-linecap="butt"/>
<text transform="translate(354.9,575.4) scale(0.92,1)" y="2.9" font-size="8.05" text-anchor="end" font-weight="normal" fill="#1a1a1a" stroke="#1a1a1a" stroke-width="0.17">60</text>
<line x1="357.9" y1="562.4" x2="360.9" y2="562.4" stroke="#1a1a1a" stroke-width="1.2" stroke-linecap="butt"/>
<text transform="translate(354.9,562) scale(0.92,1)" y="2.9" font-size="8.05" text-anchor="end" font-weight="normal" fill="#1a1a1a" stroke="#1a1a1a" stroke-width="0.17">80</text>
<line x1="357.9" y1="549" x2="360.9" y2="549" stroke="#1a1a1a" stroke-width="1.2" stroke-linecap="butt"/>
<text transform="translate(354.9,548.6) scale(0.92,1)" y="2.9" font-size="8.05" text-anchor="end" font-weight="normal" fill="#1a1a1a" stroke="#1a1a1a" stroke-width="0.17">100</text>
<line x1="360.3" y1="616" x2="405.25" y2="616" stroke="#1a1a1a" stroke-width="1.2" stroke-linecap="butt"/>
<line x1="367.9" y1="616" x2="367.9" y2="619" stroke="#1a1a1a" stroke-width="1.2" stroke-linecap="butt"/>
<line x1="377.9" y1="616" x2="377.9" y2="619" stroke="#1a1a1a" stroke-width="1.2" stroke-linecap="butt"/>
<line x1="388.3" y1="616" x2="388.3" y2="619" stroke="#1a1a1a" stroke-width="1.2" stroke-linecap="butt"/>
<line x1="398.3" y1="616" x2="398.3" y2="619" stroke="#1a1a1a" stroke-width="1.2" stroke-linecap="butt"/>
<text transform="translate(369.4,623.2) rotate(-45)" y="2.84" font-size="7.9" text-anchor="end" font-weight="normal" fill="#1a1a1a" stroke="#1a1a1a" stroke-width="0.17">Vehicle</text>
<text transform="translate(379.4,623.2) rotate(-45)" y="2.84" font-size="7.9" text-anchor="end" font-weight="normal" fill="#1a1a1a" stroke="#1a1a1a" stroke-width="0.17">AYNE</text>
<text transform="translate(389.8,623.2) rotate(-45)" y="2.84" font-size="7.9" text-anchor="end" font-weight="normal" fill="#1a1a1a" stroke="#1a1a1a" stroke-width="0.17">Vehicle</text>
<text transform="translate(399.8,623.2) rotate(-45)" y="2.84" font-size="7.9" text-anchor="end" font-weight="normal" fill="#1a1a1a" stroke="#1a1a1a" stroke-width="0.17">AYNE</text>
<text transform="translate(383.6,548.3)" y="2.99" font-size="8.3" text-anchor="middle" font-weight="normal" fill="#1a1a1a" stroke="#1a1a1a" stroke-width="0.17">AML MNC</text>
<text x="377.8" y="584.35" font-size="7.5" text-anchor="middle" fill="#1a1a1a" stroke="#1a1a1a" stroke-width="0.25">***</text>
<text x="398.4" y="586.88" font-size="7.35" text-anchor="middle" fill="#1a1a1a" stroke="#1a1a1a" stroke-width="0.15">n.s.</text>
<text transform="translate(321.9,581.6) rotate(-90) scale(0.71,1)" y="3.67" font-size="10.2" text-anchor="middle" font-weight="normal" fill="#1a1a1a" stroke="#1a1a1a" stroke-width="0.17"><tspan>Glucose-derived</tspan></text>
<text transform="translate(333.3,580.8) rotate(-90) scale(0.73,1)" y="3.67" font-size="10.2" text-anchor="middle" font-weight="normal" fill="#1a1a1a" stroke="#1a1a1a" stroke-width="0.17"><tspan font-size="6.94" dy="-3.67">13</tspan><tspan dy="3.67" font-size="10.2">&#8203;</tspan><tspan>C</tspan><tspan font-size="6.94" dy="2.04">2</tspan><tspan dy="-2.04" font-size="10.2">&#8203;</tspan><tspan> citrate (% of pool)</tspan></text>
<defs><marker id="ah" viewBox="0 0 10 10" refX="7" refY="5" markerWidth="4.5" markerHeight="4.5" orient="auto-start-reverse"><path d="M0,0.8 L10,5 L0,9.2 L2.2,5 z" fill="#111"/></marker></defs>
<circle cx="190.25" cy="301.4" r="3.05" fill="#d6947e" stroke="#b91d3e" stroke-width="1"/>
<circle cx="196.82" cy="301.4" r="3.05" fill="#d6947e" stroke="#b91d3e" stroke-width="1"/>
<circle cx="203.38" cy="301.4" r="3.05" fill="#d6947e" stroke="#b91d3e" stroke-width="1"/>
<circle cx="209.95" cy="301.4" r="3.05" fill="#d6947e" stroke="#b91d3e" stroke-width="1"/>
<circle cx="216.52" cy="301.4" r="3.05" fill="#d6947e" stroke="#b91d3e" stroke-width="1"/>
<circle cx="223.09" cy="301.4" r="3.05" fill="#d6947e" stroke="#b91d3e" stroke-width="1"/>
<circle cx="229.65" cy="301.4" r="3.05" fill="#d6947e" stroke="#b91d3e" stroke-width="1"/>
<circle cx="236.22" cy="301.4" r="3.05" fill="#d6947e" stroke="#b91d3e" stroke-width="1"/>
<circle cx="242.79" cy="301.4" r="3.05" fill="#d6947e" stroke="#b91d3e" stroke-width="1"/>
<circle cx="249.35" cy="301.4" r="3.05" fill="#d6947e" stroke="#b91d3e" stroke-width="1"/>
<circle cx="255.92" cy="301.4" r="3.05" fill="#d6947e" stroke="#b91d3e" stroke-width="1"/>
<circle cx="262.49" cy="301.4" r="3.05" fill="#d6947e" stroke="#b91d3e" stroke-width="1"/>
<circle cx="269.05" cy="301.4" r="3.05" fill="#d6947e" stroke="#b91d3e" stroke-width="1"/>
<circle cx="275.62" cy="301.4" r="3.05" fill="#d6947e" stroke="#b91d3e" stroke-width="1"/>
<circle cx="282.19" cy="301.4" r="3.05" fill="#d6947e" stroke="#b91d3e" stroke-width="1"/>
<circle cx="288.75" cy="301.4" r="3.05" fill="#d6947e" stroke="#b91d3e" stroke-width="1"/>
<rect x="293.4" y="296" width="28.3" height="14.4" fill="#dcdfee" />
<text transform="translate(307.55,300.6)" y="1.51" font-size="4.2" text-anchor="middle" font-weight="normal" fill="#111" stroke="#111" stroke-width="0.04">M+16</text>
<text transform="translate(307.55,305.8)" y="1.51" font-size="4.2" text-anchor="middle" font-weight="normal" fill="#111" stroke="#111" stroke-width="0.04">Palmitate</text>
<line x1="227" y1="309" x2="227" y2="313.9" stroke="#111" stroke-width="1" stroke-linecap="butt"/>
<path d="M225.3,312.5 L227,313.3 L228.7,312.5 L227,315.9 z" fill="#111"/>
<line x1="227" y1="322.8" x2="227" y2="327.2" stroke="#111" stroke-width="1" stroke-linecap="butt"/>
<path d="M225.3,325.8 L227,326.6 L228.7,325.8 L227,329.2 z" fill="#111"/>
<line x1="227" y1="331.5" x2="227" y2="335.8" stroke="#111" stroke-width="1" stroke-linecap="butt"/>
<path d="M225.3,334.4 L227,335.2 L228.7,334.4 L227,337.8 z" fill="#111"/>
<line x1="227" y1="340.1" x2="227" y2="344.5" stroke="#111" stroke-width="1" stroke-linecap="butt"/>
<path d="M225.3,343.1 L227,343.9 L228.7,343.1 L227,346.5 z" fill="#111"/>
<text transform="translate(207.6,314.3)" y="1.44" font-size="4" text-anchor="middle" font-weight="normal" fill="#111" stroke="#111" stroke-width="0.04">AYNE</text>
<text transform="translate(207.6,319.5)" y="1.44" font-size="4" text-anchor="middle" font-weight="normal" fill="#111" stroke="#111" stroke-width="0.04">or</text>
<text transform="translate(207.6,324.6)" y="1.44" font-size="4" text-anchor="middle" font-weight="normal" fill="#111" stroke="#111" stroke-width="0.04">VLCAD</text>
<text transform="translate(207.6,330)" y="1.44" font-size="4" text-anchor="middle" font-weight="normal" fill="#111" stroke="#111" stroke-width="0.04">shRNA</text>
<line x1="213.9" y1="319.5" x2="221.3" y2="319.5" stroke="#b5203c" stroke-width="0.8" stroke-linecap="butt"/>
<line x1="221.3" y1="317.9" x2="221.3" y2="321.1" stroke="#b5203c" stroke-width="0.8" stroke-linecap="butt"/>
<text transform="translate(227.4,319.5)" y="1.48" font-size="4.1" text-anchor="middle" font-weight="normal" fill="#111" stroke="#111" stroke-width="0.04">FAO</text>
<circle cx="224.5" cy="353.3" r="3.05" fill="#d6947e" stroke="#b91d3e" stroke-width="1"/>
<circle cx="231.2" cy="353.3" r="3.05" fill="#d6947e" stroke="#b91d3e" stroke-width="1"/>
<rect x="235.5" y="346.25" width="36.25" height="13" fill="#dcdfee" />
<text transform="translate(253.62,350.15)" y="1.51" font-size="4.2" text-anchor="middle" font-weight="normal" fill="#111" stroke="#111" stroke-width="0.04">M+2</text>
<text transform="translate(253.62,355.35)" y="1.51" font-size="4.2" text-anchor="middle" font-weight="normal" fill="#111" stroke="#111" stroke-width="0.04">Acetyl-Carnitine</text>
<rect x="152.5" y="363.75" width="21.75" height="13.65" fill="#dcdfee" />
<text transform="translate(163.38,367.97)" y="1.51" font-size="4.2" text-anchor="middle" font-weight="normal" fill="#111" stroke="#111" stroke-width="0.04">M+2</text>
<text transform="translate(163.38,373.18)" y="1.51" font-size="4.2" text-anchor="middle" font-weight="normal" fill="#111" stroke="#111" stroke-width="0.04">Aspartate</text>
<rect x="195.5" y="382.4" width="27.7" height="6.3" fill="#dcdfee" />
<text transform="translate(209.35,385.55)" y="1.51" font-size="4.2" text-anchor="middle" font-weight="normal" fill="#111" stroke="#111" stroke-width="0.04">Oxaloacetate</text>
<rect x="242.5" y="378.75" width="14.5" height="13.75" fill="#dcdfee" />
<text transform="translate(249.75,383.02)" y="1.51" font-size="4.2" text-anchor="middle" font-weight="normal" fill="#111" stroke="#111" stroke-width="0.04">M+2</text>
<text transform="translate(249.75,388.23)" y="1.51" font-size="4.2" text-anchor="middle" font-weight="normal" fill="#111" stroke="#111" stroke-width="0.04">Citrate</text>
<rect x="258.5" y="402" width="19.5" height="6.3" fill="#dcdfee" />
<text transform="translate(268.25,405.15)" y="1.51" font-size="4.2" text-anchor="middle" font-weight="normal" fill="#111" stroke="#111" stroke-width="0.04">Isocitrate</text>
<rect x="257.4" y="427.5" width="35.6" height="15.7" fill="#dcdfee" />
<text transform="translate(275.2,432.75)" y="1.51" font-size="4.2" text-anchor="middle" font-weight="normal" fill="#111" stroke="#111" stroke-width="0.04">M+2</text>
<text transform="translate(275.2,437.95)" y="1.51" font-size="4.2" text-anchor="middle" font-weight="normal" fill="#111" stroke="#111" stroke-width="0.04">&#945;-Ketoglutarate</text>
<rect x="246.25" y="455" width="21.75" height="13.75" fill="#dcdfee" />
<text transform="translate(257.12,459.27)" y="1.51" font-size="4.2" text-anchor="middle" font-weight="normal" fill="#111" stroke="#111" stroke-width="0.04">Succinyl</text>
<text transform="translate(257.12,464.48)" y="1.51" font-size="4.2" text-anchor="middle" font-weight="normal" fill="#111" stroke="#111" stroke-width="0.04">CoA</text>
<rect x="196.75" y="459.4" width="20.75" height="6.1" fill="#dcdfee" />
<text transform="translate(207.12,462.45)" y="1.51" font-size="4.2" text-anchor="middle" font-weight="normal" fill="#111" stroke="#111" stroke-width="0.04">Succinate</text>
<rect x="174.4" y="427.5" width="24.2" height="14.1" fill="#dcdfee" />
<text transform="translate(186.5,431.95)" y="1.51" font-size="4.2" text-anchor="middle" font-weight="normal" fill="#111" stroke="#111" stroke-width="0.04">M+2</text>
<text transform="translate(186.5,437.15)" y="1.51" font-size="4.2" text-anchor="middle" font-weight="normal" fill="#111" stroke="#111" stroke-width="0.04">Fumarate</text>
<rect x="181.75" y="398.4" width="18.05" height="14.1" fill="#dcdfee" />
<text transform="translate(190.78,402.85)" y="1.51" font-size="4.2" text-anchor="middle" font-weight="normal" fill="#111" stroke="#111" stroke-width="0.04">M+2</text>
<text transform="translate(190.78,408.05)" y="1.51" font-size="4.2" text-anchor="middle" font-weight="normal" fill="#111" stroke="#111" stroke-width="0.04">Malate</text>
<circle cx="128" cy="370.7" r="3.05" fill="#d6947e" stroke="#b91d3e" stroke-width="1"/>
<circle cx="134.75" cy="370.7" r="3.05" fill="#d6947e" stroke="#b91d3e" stroke-width="1"/>
<circle cx="141.5" cy="370.7" r="3.05" fill="#8995c5" stroke="#2e4797" stroke-width="1"/>
<circle cx="148.25" cy="370.7" r="3.05" fill="#8995c5" stroke="#2e4797" stroke-width="1"/>
<circle cx="157.25" cy="405.5" r="3.05" fill="#d6947e" stroke="#b91d3e" stroke-width="1"/>
<circle cx="163.92" cy="405.5" r="3.05" fill="#d6947e" stroke="#b91d3e" stroke-width="1"/>
<circle cx="170.59" cy="405.5" r="3.05" fill="#8995c5" stroke="#2e4797" stroke-width="1"/>
<circle cx="177.26" cy="405.5" r="3.05" fill="#8995c5" stroke="#2e4797" stroke-width="1"/>
<circle cx="150.25" cy="434.5" r="3.05" fill="#d6947e" stroke="#b91d3e" stroke-width="1"/>
<circle cx="156.92" cy="434.5" r="3.05" fill="#d6947e" stroke="#b91d3e" stroke-width="1"/>
<circle cx="163.59" cy="434.5" r="3.05" fill="#8995c5" stroke="#2e4797" stroke-width="1"/>
<circle cx="170.26" cy="434.5" r="3.05" fill="#8995c5" stroke="#2e4797" stroke-width="1"/>
<circle cx="265" cy="386" r="3.05" fill="#d6947e" stroke="#b91d3e" stroke-width="1"/>
<circle cx="271.63" cy="386" r="3.05" fill="#d6947e" stroke="#b91d3e" stroke-width="1"/>
<circle cx="278.26" cy="386" r="3.05" fill="#8995c5" stroke="#2e4797" stroke-width="1"/>
<circle cx="284.89" cy="386" r="3.05" fill="#8995c5" stroke="#2e4797" stroke-width="1"/>
<circle cx="291.52" cy="386" r="3.05" fill="#8995c5" stroke="#2e4797" stroke-width="1"/>
<circle cx="278.2" cy="379.2" r="3.05" fill="#8995c5" stroke="#2e4797" stroke-width="1"/>
<circle cx="298.25" cy="434.5" r="3.05" fill="#d6947e" stroke="#b91d3e" stroke-width="1"/>
<circle cx="304.88" cy="434.5" r="3.05" fill="#d6947e" stroke="#b91d3e" stroke-width="1"/>
<circle cx="311.51" cy="434.5" r="3.05" fill="#8995c5" stroke="#2e4797" stroke-width="1"/>
<circle cx="318.14" cy="434.5" r="3.05" fill="#8995c5" stroke="#2e4797" stroke-width="1"/>
<circle cx="324.77" cy="434.5" r="3.05" fill="#8995c5" stroke="#2e4797" stroke-width="1"/>
<path d="M227.25,363 C227.4,375 229,381.4 240.8,381.8" fill="none" stroke="#111" stroke-width="1.1" marker-end="url(#ah)"/>
<path d="M221.5,381.5 C228,380.4 234,380.8 240.8,381.8" fill="none" stroke="#111" stroke-width="1.1" marker-end="url(#ah)"/>
<path d="M256.9,390.6 C261.5,392.5 264.6,396 266.4,400.4" fill="none" stroke="#111" stroke-width="1.1" marker-end="url(#ah)"/>
<path d="M271.7,409.2 C273.3,414 274.2,419 274.4,425.4" fill="none" stroke="#111" stroke-width="1.1" marker-end="url(#ah)"/>
<path d="M270.8,443.8 C269,447.5 267,450.5 264.6,453.8" fill="none" stroke="#111" stroke-width="1.1" marker-end="url(#ah)"/>
<path d="M245.8,466.8 C236,470.3 226,470.2 215.2,466.6" fill="none" stroke="#111" stroke-width="1.1" marker-end="url(#ah)"/>
<path d="M200.8,458.8 C195.6,455.4 190.9,449.6 188.4,442.8" fill="none" stroke="#111" stroke-width="1.1" marker-end="url(#ah)"/>
<path d="M185.2,425.8 C185.4,422 185.8,418.5 186.3,414.6" fill="none" stroke="#111" stroke-width="1.1" marker-end="url(#ah)"/>
<path d="M193.3,398.6 C196,395.6 199,392.8 201.9,390.2" fill="none" stroke="#111" stroke-width="1.1" marker-end="url(#ah)"/>
<path d="M197.6,381.9 C192,378.6 186,375.2 179.6,371.9" fill="none" stroke="#111" stroke-width="1.1" marker-end="url(#ah)"/>
<circle cx="275" cy="463.7" r="3.05" fill="#8995c5" stroke="#2e4797" stroke-width="1"/>
<circle cx="275" cy="472.3" r="3.05" fill="#d6947e" stroke="#b91d3e" stroke-width="1"/>
<text transform="translate(280.6,463.8)" y="1.58" font-size="4.4" text-anchor="start" font-weight="normal" fill="#111" stroke="#111" stroke-width="0.04"><tspan font-size="2.8" dy="-1.5">13</tspan><tspan dy="1.5">C</tspan> carbon</text>
<text transform="translate(280.6,472.4)" y="1.58" font-size="4.4" text-anchor="start" font-weight="normal" fill="#111" stroke="#111" stroke-width="0.04"><tspan font-size="2.8" dy="-1.5">13</tspan><tspan dy="1.5">C</tspan> carbon from <tspan font-size="2.8" dy="-1.5">13</tspan><tspan dy="1.5">C</tspan><tspan font-size="2.8" dy="0.9">16</tspan><tspan dy="-0.9">-palmitate</tspan></text>
<rect x="0.5" y="0.5" width="519" height="650" fill="none" stroke="#000" stroke-width="1"/>
</svg>
</body></html>
